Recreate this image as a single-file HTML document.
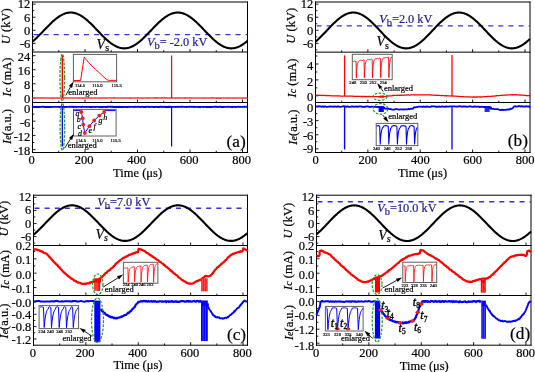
<!DOCTYPE html>
<html><head><meta charset="utf-8"><style>
html,body{margin:0;padding:0;background:#fff;}
svg{display:block;will-change:transform;}
text{font-family:"Liberation Serif",serif;stroke-width:0.2px;}
</style></head><body>
<svg width="535" height="372" viewBox="0 0 535 372" style="background:#fff">
<line x1="32" y1="2" x2="248" y2="2" stroke="#000" stroke-width="1" />
<line x1="32" y1="52" x2="248" y2="52" stroke="#000" stroke-width="1" />
<line x1="32" y1="102.5" x2="248" y2="102.5" stroke="#000" stroke-width="1" />
<line x1="32" y1="152.5" x2="248" y2="152.5" stroke="#000" stroke-width="1" />
<line x1="32.5" y1="1.5" x2="32.5" y2="153" stroke="#000" stroke-width="1" />
<line x1="247.5" y1="1.5" x2="247.5" y2="153" stroke="#000" stroke-width="1" />
<line x1="32.5" y1="52" x2="32.5" y2="49" stroke="#000" stroke-width="0.9" />
<line x1="58.75" y1="52" x2="58.75" y2="50.2" stroke="#000" stroke-width="0.9" />
<line x1="85" y1="52" x2="85" y2="49" stroke="#000" stroke-width="0.9" />
<line x1="111.25" y1="52" x2="111.25" y2="50.2" stroke="#000" stroke-width="0.9" />
<line x1="137.5" y1="52" x2="137.5" y2="49" stroke="#000" stroke-width="0.9" />
<line x1="163.75" y1="52" x2="163.75" y2="50.2" stroke="#000" stroke-width="0.9" />
<line x1="190" y1="52" x2="190" y2="49" stroke="#000" stroke-width="0.9" />
<line x1="216.25" y1="52" x2="216.25" y2="50.2" stroke="#000" stroke-width="0.9" />
<line x1="242.5" y1="52" x2="242.5" y2="49" stroke="#000" stroke-width="0.9" />
<line x1="32.5" y1="102.5" x2="32.5" y2="99.5" stroke="#000" stroke-width="0.9" />
<line x1="58.75" y1="102.5" x2="58.75" y2="100.7" stroke="#000" stroke-width="0.9" />
<line x1="85" y1="102.5" x2="85" y2="99.5" stroke="#000" stroke-width="0.9" />
<line x1="111.25" y1="102.5" x2="111.25" y2="100.7" stroke="#000" stroke-width="0.9" />
<line x1="137.5" y1="102.5" x2="137.5" y2="99.5" stroke="#000" stroke-width="0.9" />
<line x1="163.75" y1="102.5" x2="163.75" y2="100.7" stroke="#000" stroke-width="0.9" />
<line x1="190" y1="102.5" x2="190" y2="99.5" stroke="#000" stroke-width="0.9" />
<line x1="216.25" y1="102.5" x2="216.25" y2="100.7" stroke="#000" stroke-width="0.9" />
<line x1="242.5" y1="102.5" x2="242.5" y2="99.5" stroke="#000" stroke-width="0.9" />
<line x1="32.5" y1="152.5" x2="32.5" y2="149.5" stroke="#000" stroke-width="0.9" />
<line x1="58.75" y1="152.5" x2="58.75" y2="150.7" stroke="#000" stroke-width="0.9" />
<line x1="85" y1="152.5" x2="85" y2="149.5" stroke="#000" stroke-width="0.9" />
<line x1="111.25" y1="152.5" x2="111.25" y2="150.7" stroke="#000" stroke-width="0.9" />
<line x1="137.5" y1="152.5" x2="137.5" y2="149.5" stroke="#000" stroke-width="0.9" />
<line x1="163.75" y1="152.5" x2="163.75" y2="150.7" stroke="#000" stroke-width="0.9" />
<line x1="190" y1="152.5" x2="190" y2="149.5" stroke="#000" stroke-width="0.9" />
<line x1="216.25" y1="152.5" x2="216.25" y2="150.7" stroke="#000" stroke-width="0.9" />
<line x1="242.5" y1="152.5" x2="242.5" y2="149.5" stroke="#000" stroke-width="0.9" />
<text x="31.5" y="164.2" font-size="12.5" text-anchor="middle" fill="#000" stroke="#000"  font-family="Liberation Serif">0</text>
<text x="84" y="164.2" font-size="12.5" text-anchor="middle" fill="#000" stroke="#000"  font-family="Liberation Serif">200</text>
<text x="136.5" y="164.2" font-size="12.5" text-anchor="middle" fill="#000" stroke="#000"  font-family="Liberation Serif">400</text>
<text x="189" y="164.2" font-size="12.5" text-anchor="middle" fill="#000" stroke="#000"  font-family="Liberation Serif">600</text>
<text x="241.5" y="164.2" font-size="12.5" text-anchor="middle" fill="#000" stroke="#000"  font-family="Liberation Serif">800</text>
<text x="137.6" y="176.8" font-size="12.5" text-anchor="middle" fill="#000" stroke="#000"  font-family="Liberation Serif">Time (&#956;s)</text>
<line x1="32.5" y1="4.14" x2="35.5" y2="4.14" stroke="#000" stroke-width="0.9" />
<line x1="32.5" y1="10.68" x2="34.3" y2="10.68" stroke="#000" stroke-width="0.9" />
<line x1="32.5" y1="17.22" x2="35.5" y2="17.22" stroke="#000" stroke-width="0.9" />
<line x1="32.5" y1="23.76" x2="34.3" y2="23.76" stroke="#000" stroke-width="0.9" />
<line x1="32.5" y1="30.3" x2="35.5" y2="30.3" stroke="#000" stroke-width="0.9" />
<line x1="32.5" y1="36.84" x2="34.3" y2="36.84" stroke="#000" stroke-width="0.9" />
<line x1="32.5" y1="43.38" x2="35.5" y2="43.38" stroke="#000" stroke-width="0.9" />
<line x1="32.5" y1="49.92" x2="34.3" y2="49.92" stroke="#000" stroke-width="0.9" />
<text x="30.3" y="8.44" font-size="12.5" text-anchor="end" fill="#000" stroke="#000"  font-family="Liberation Serif">12</text>
<text x="30.3" y="22.22" font-size="12.5" text-anchor="end" fill="#000" stroke="#000"  font-family="Liberation Serif">6</text>
<text x="30.3" y="35.3" font-size="12.5" text-anchor="end" fill="#000" stroke="#000"  font-family="Liberation Serif">0</text>
<text x="30.3" y="48.38" font-size="12.5" text-anchor="end" fill="#000" stroke="#000"  font-family="Liberation Serif">-6</text>
<line x1="33.5" y1="34.66" x2="247.5" y2="34.66" stroke="#3535c8" stroke-width="1.35" stroke-dasharray="5.05 5.05"/>
<polyline points="32.5,41.55 33,41.13 33.5,40.71 34,40.27 34.5,39.83 35,39.38 35.5,38.92 36,38.45 36.5,37.98 37,37.5 37.5,37.01 38,36.52 38.5,36.03 39,35.53 39.5,35.02 40,34.51 40.5,34 41,33.48 41.5,32.96 42,32.44 42.5,31.92 43,31.39 43.5,30.87 44,30.34 44.5,29.82 45,29.3 45.5,28.77 46,28.25 46.5,27.73 47,27.21 47.5,26.7 48,26.19 48.5,25.68 49,25.17 49.5,24.67 50,24.18 50.5,23.69 51,23.21 51.5,22.73 52,22.26 52.5,21.8 53,21.34 53.5,20.89 54,20.45 54.5,20.02 55,19.6 55.5,19.19 56,18.78 56.5,18.39 57,18.01 57.5,17.64 58,17.27 58.5,16.93 59,16.59 59.5,16.26 60,15.95 60.5,15.65 61,15.36 61.5,15.08 62,14.82 62.5,14.57 63,14.33 63.5,14.11 64,13.91 64.5,13.71 65,13.53 65.5,13.37 66,13.22 66.5,13.08 67,12.96 67.5,12.86 68,12.77 68.5,12.7 69,12.64 69.5,12.59 70,12.56 70.5,12.55 71,12.55 71.5,12.57 72,12.6 72.5,12.65 73,12.72 73.5,12.8 74,12.89 74.5,13 75,13.12 75.5,13.26 76,13.42 76.5,13.59 77,13.77 77.5,13.97 78,14.18 78.5,14.4 79,14.64 79.5,14.9 80,15.16 80.5,15.44 81,15.73 81.5,16.04 82,16.36 82.5,16.69 83,17.03 83.5,17.38 84,17.75 84.5,18.12 85,18.51 85.5,18.9 86,19.31 86.5,19.73 87,20.15 87.5,20.58 88,21.03 88.5,21.48 89,21.94 89.5,22.4 90,22.87 90.5,23.35 91,23.84 91.5,24.33 92,24.82 92.5,25.32 93,25.83 93.5,26.34 94,26.85 94.5,27.37 95,27.89 95.5,28.41 96,28.93 96.5,29.45 97,29.98 97.5,30.5 98,31.03 98.5,31.55 99,32.08 99.5,32.6 100,33.12 100.5,33.64 101,34.15 101.5,34.66 102,35.17 102.5,35.68 103,36.18 103.5,36.67 104,37.16 104.5,37.64 105,38.12 105.5,38.59 106,39.06 106.5,39.51 107,39.96 107.5,40.4 108,40.83 108.5,41.26 109,41.67 109.5,42.08 110,42.47 110.5,42.85 111,43.23 111.5,43.59 112,43.94 112.5,44.28 113,44.61 113.5,44.92 114,45.22 114.5,45.51 115,45.79 115.5,46.06 116,46.31 116.5,46.54 117,46.77 117.5,46.97 118,47.17 118.5,47.35 119,47.52 119.5,47.67 120,47.8 120.5,47.92 121,48.03 121.5,48.12 122,48.2 122.5,48.26 123,48.3 123.5,48.33 124,48.35 124.5,48.35 125,48.33 125.5,48.3 126,48.25 126.5,48.19 127,48.11 127.5,48.02 128,47.91 128.5,47.79 129,47.65 129.5,47.5 130,47.33 130.5,47.15 131,46.95 131.5,46.74 132,46.52 132.5,46.28 133,46.03 133.5,45.76 134,45.49 134.5,45.2 135,44.89 135.5,44.57 136,44.25 136.5,43.91 137,43.55 137.5,43.19 138,42.82 138.5,42.43 139,42.04 139.5,41.63 140,41.22 140.5,40.79 141,40.36 141.5,39.92 142,39.47 142.5,39.01 143,38.55 143.5,38.07 144,37.6 144.5,37.11 145,36.62 145.5,36.13 146,35.63 146.5,35.12 147,34.61 147.5,34.1 148,33.58 148.5,33.07 149,32.55 149.5,32.02 150,31.5 150.5,30.97 151,30.45 151.5,29.93 152,29.4 152.5,28.88 153,28.35 153.5,27.83 154,27.32 154.5,26.8 155,26.29 155.5,25.78 156,25.27 156.5,24.77 157,24.28 157.5,23.79 158,23.3 158.5,22.83 159,22.35 159.5,21.89 160,21.43 160.5,20.98 161,20.54 161.5,20.11 162,19.68 162.5,19.27 163,18.86 163.5,18.47 164,18.08 164.5,17.71 165,17.35 165.5,16.99 166,16.65 166.5,16.33 167,16.01 167.5,15.7 168,15.41 168.5,15.14 169,14.87 169.5,14.62 170,14.38 170.5,14.16 171,13.95 171.5,13.75 172,13.57 172.5,13.4 173,13.25 173.5,13.11 174,12.99 174.5,12.88 175,12.79 175.5,12.71 176,12.65 176.5,12.6 177,12.57 177.5,12.55 178,12.55 178.5,12.57 179,12.6 179.5,12.64 180,12.7 180.5,12.78 181,12.87 181.5,12.98 182,13.1 182.5,13.23 183,13.38 183.5,13.55 184,13.73 184.5,13.93 185,14.13 185.5,14.36 186,14.59 186.5,14.84 187,15.11 187.5,15.39 188,15.68 188.5,15.98 189,16.29 189.5,16.62 190,16.96 190.5,17.31 191,17.67 191.5,18.05 192,18.43 192.5,18.82 193,19.23 193.5,19.64 194,20.07 194.5,20.5 195,20.94 195.5,21.39 196,21.84 196.5,22.31 197,22.78 197.5,23.26 198,23.74 198.5,24.23 199,24.72 199.5,25.22 200,25.73 200.5,26.24 201,26.75 201.5,27.26 202,27.78 202.5,28.3 203,28.82 203.5,29.35 204,29.87 204.5,30.4 205,30.92 205.5,31.45 206,31.97 206.5,32.49 207,33.01 207.5,33.53 208,34.05 208.5,34.56 209,35.07 209.5,35.58 210,36.08 210.5,36.57 211,37.06 211.5,37.55 212,38.03 212.5,38.5 213,38.96 213.5,39.42 214,39.87 214.5,40.32 215,40.75 215.5,41.17 216,41.59 216.5,42 217,42.39 217.5,42.78 218,43.15 218.5,43.52 219,43.87 219.5,44.21 220,44.54 220.5,44.86 221,45.17 221.5,45.46 222,45.74 222.5,46 223,46.26 223.5,46.5 224,46.72 224.5,46.93 225,47.13 225.5,47.31 226,47.48 226.5,47.64 227,47.78 227.5,47.9 228,48.01 228.5,48.1 229,48.18 229.5,48.25 230,48.3 230.5,48.33 231,48.35 231.5,48.35 232,48.34 232.5,48.31 233,48.26 233.5,48.2 234,48.13 234.5,48.04 235,47.94 235.5,47.82 236,47.68 236.5,47.53 237,47.37 237.5,47.19 238,46.99 238.5,46.79 239,46.57 239.5,46.33 240,46.08 240.5,45.82 241,45.54 241.5,45.25 242,44.95 242.5,44.64 243,44.31 243.5,43.97 244,43.63 244.5,43.26 245,42.89 245.5,42.51 246,42.12 246.5,41.71 247,41.3 247.5,40.88" fill="none" stroke="#000" stroke-width="2.1" stroke-linejoin="round" />
<text x="147" y="46.1" font-size="12.3" fill="#1b1b96" stroke="#1b1b96" font-family="Liberation Serif"><tspan font-style="italic">V</tspan><tspan font-size="10.5" dy="3">b</tspan><tspan dy="-3">= -2.0 kV</tspan></text>
<text x="96.6" y="48.6" font-size="14" fill="#000" stroke="#000" font-family="Liberation Serif"><tspan font-style="italic">V</tspan><tspan font-size="10" dy="2.6">s</tspan></text>
<text transform="translate(5.58,26.28) rotate(-90)" x="0" y="0" font-size="12.5" text-anchor="middle" dominant-baseline="central" stroke="#000" font-family="Liberation Serif"><tspan font-style="italic">U</tspan> (kV)</text>
<text transform="translate(6.82,77.04) rotate(-90)" x="0" y="0" font-size="12.5" text-anchor="middle" dominant-baseline="central" stroke="#000" font-family="Liberation Serif"><tspan font-style="italic">I</tspan><tspan font-size="10" font-style="italic">c</tspan> (mA)</text>
<text transform="translate(6.54,126.5) rotate(-90)" x="0" y="0" font-size="12.5" text-anchor="middle" dominant-baseline="central" stroke="#000" font-family="Liberation Serif"><tspan font-style="italic">I</tspan><tspan font-size="10" font-style="italic">e</tspan>(a.u.)</text>
<line x1="32.5" y1="97.8" x2="35.5" y2="97.8" stroke="#000" stroke-width="0.9" />
<line x1="32.5" y1="90.78" x2="34.3" y2="90.78" stroke="#000" stroke-width="0.9" />
<line x1="32.5" y1="83.76" x2="35.5" y2="83.76" stroke="#000" stroke-width="0.9" />
<line x1="32.5" y1="76.74" x2="34.3" y2="76.74" stroke="#000" stroke-width="0.9" />
<line x1="32.5" y1="69.72" x2="35.5" y2="69.72" stroke="#000" stroke-width="0.9" />
<line x1="32.5" y1="62.7" x2="34.3" y2="62.7" stroke="#000" stroke-width="0.9" />
<line x1="32.5" y1="55.68" x2="35.5" y2="55.68" stroke="#000" stroke-width="0.9" />
<text x="30.3" y="102.8" font-size="12.5" text-anchor="end" fill="#000" stroke="#000"  font-family="Liberation Serif">0</text>
<text x="30.3" y="88.76" font-size="12.5" text-anchor="end" fill="#000" stroke="#000"  font-family="Liberation Serif">8</text>
<text x="30.3" y="74.72" font-size="12.5" text-anchor="end" fill="#000" stroke="#000"  font-family="Liberation Serif">16</text>
<text x="30.3" y="60.68" font-size="12.5" text-anchor="end" fill="#000" stroke="#000"  font-family="Liberation Serif">24</text>
<line x1="32.5" y1="107" x2="35.5" y2="107" stroke="#000" stroke-width="0.9" />
<line x1="32.5" y1="114.1" x2="34.3" y2="114.1" stroke="#000" stroke-width="0.9" />
<line x1="32.5" y1="121.2" x2="35.5" y2="121.2" stroke="#000" stroke-width="0.9" />
<line x1="32.5" y1="128.3" x2="34.3" y2="128.3" stroke="#000" stroke-width="0.9" />
<line x1="32.5" y1="135.4" x2="35.5" y2="135.4" stroke="#000" stroke-width="0.9" />
<line x1="32.5" y1="142.5" x2="34.3" y2="142.5" stroke="#000" stroke-width="0.9" />
<line x1="32.5" y1="149.61" x2="35.5" y2="149.61" stroke="#000" stroke-width="0.9" />
<text x="30.3" y="112.6" font-size="12.5" text-anchor="end" fill="#000" stroke="#000"  font-family="Liberation Serif">0</text>
<text x="30.3" y="127.2" font-size="12.5" text-anchor="end" fill="#000" stroke="#000"  font-family="Liberation Serif">-6</text>
<text x="30.3" y="141.4" font-size="12.5" text-anchor="end" fill="#000" stroke="#000"  font-family="Liberation Serif">-12</text>
<text x="30.3" y="154.61" font-size="12.5" text-anchor="end" fill="#000" stroke="#000"  font-family="Liberation Serif">-18</text>
<polyline points="32.5,97.96 33.5,97.93 34.5,98.03 35.5,97.91 36.5,98.01 37.5,97.97 38.5,97.91 39.5,98 40.5,97.91 41.5,97.99 42.5,97.91 43.5,97.92 44.5,97.98 45.5,98.07 46.5,97.92 47.5,97.94 48.5,98.03 49.5,98.09 50.5,98.02 51.5,97.98 52.5,98.1 53.5,97.91 54.5,98.07 55.5,97.96 56.5,97.93 57.5,97.92 58.5,97.96 59.5,98.06 60.5,97.94 61.5,98.02 62.5,98.03 63.5,97.97 64.5,98.01 65.5,97.91 66.5,97.91 67.5,97.94 68.5,98.04 69.5,97.99 70.5,97.96 71.5,98.02 72.5,97.99 73.5,97.96 74.5,98.06 75.5,98.04 76.5,97.95 77.5,98.01 78.5,98.01 79.5,98.08 80.5,98.05 81.5,97.96 82.5,98.1 83.5,97.92 84.5,97.98 85.5,98.05 86.5,97.93 87.5,98 88.5,97.91 89.5,98.03 90.5,98.05 91.5,98.01 92.5,98.08 93.5,97.96 94.5,98.04 95.5,98.02 96.5,98.02 97.5,97.99 98.5,98.07 99.5,98.09 100.5,97.99 101.5,98.03 102.5,97.91 103.5,98.04 104.5,98.03 105.5,98.1 106.5,98.06 107.5,97.96 108.5,97.98 109.5,98.03 110.5,97.9 111.5,97.99 112.5,97.93 113.5,97.92 114.5,97.91 115.5,98.05 116.5,97.93 117.5,97.95 118.5,97.98 119.5,98.07 120.5,97.92 121.5,97.99 122.5,98.01 123.5,98.08 124.5,98.06 125.5,98.07 126.5,97.96 127.5,97.98 128.5,97.97 129.5,98.08 130.5,98.09 131.5,97.93 132.5,97.94 133.5,97.95 134.5,97.95 135.5,98 136.5,98.02 137.5,97.95 138.5,97.9 139.5,97.98 140.5,97.97 141.5,98.01 142.5,98.09 143.5,98.04 144.5,98 145.5,98.02 146.5,98.04 147.5,97.91 148.5,98.08 149.5,98.06 150.5,98.07 151.5,98.06 152.5,97.98 153.5,97.98 154.5,97.92 155.5,98.03 156.5,97.91 157.5,97.91 158.5,97.94 159.5,97.93 160.5,97.97 161.5,97.91 162.5,97.9 163.5,97.93 164.5,97.92 165.5,97.97 166.5,97.91 167.5,98.07 168.5,98.02 169.5,97.93 170.5,97.95 171.5,97.97 172.5,97.97 173.5,97.92 174.5,98.07 175.5,98.1 176.5,97.99 177.5,98 178.5,97.92 179.5,97.92 180.5,97.97 181.5,97.95 182.5,98.07 183.5,97.93 184.5,97.9 185.5,98.09 186.5,98.01 187.5,97.93 188.5,98.01 189.5,97.91 190.5,98.01 191.5,98.1 192.5,98.07 193.5,98.04 194.5,97.95 195.5,97.97 196.5,97.93 197.5,98.05 198.5,98.01 199.5,98.06 200.5,97.97 201.5,97.94 202.5,98.06 203.5,98.1 204.5,98.07 205.5,98.06 206.5,98.06 207.5,98.05 208.5,97.95 209.5,98 210.5,97.97 211.5,97.91 212.5,97.91 213.5,97.96 214.5,97.95 215.5,98.04 216.5,98.09 217.5,97.99 218.5,98.09 219.5,98.1 220.5,98.09 221.5,97.97 222.5,97.94 223.5,97.95 224.5,97.94 225.5,97.94 226.5,98.02 227.5,98.08 228.5,98.07 229.5,98 230.5,98.03 231.5,98.06 232.5,97.92 233.5,98.03 234.5,98.08 235.5,98.06 236.5,98.05 237.5,98 238.5,97.94 239.5,98.06 240.5,97.97 241.5,98.06 242.5,98.09 243.5,97.98 244.5,97.98 245.5,98.09 246.5,98.04 247.5,97.93" fill="none" stroke="#ff4040" stroke-width="1.6" stroke-linejoin="round" />
<line x1="62.3" y1="98" x2="62.3" y2="55.4" stroke="#ff0000" stroke-width="1.4" />
<line x1="171.6" y1="98" x2="171.6" y2="55.4" stroke="#ff0000" stroke-width="1.2" />
<ellipse cx="62.3" cy="77.6" rx="2.3" ry="23.4" fill="none" stroke="#1e9a1e" stroke-width="1.2" stroke-dasharray="2.6 1.4"/>
<rect x="73.4" y="54.4" width="43.2" height="27.4" fill="#fff" stroke="#5e5e5e" stroke-width="1"/>
<text x="80" y="87.2" font-size="4.6" text-anchor="middle" fill="#111" stroke="#111"  font-family="Liberation Serif">114.5</text>
<text x="97.4" y="87.2" font-size="4.6" text-anchor="middle" fill="#111" stroke="#111"  font-family="Liberation Serif">115.0</text>
<text x="116.7" y="87.2" font-size="4.6" text-anchor="middle" fill="#111" stroke="#111"  font-family="Liberation Serif">115.5</text>
<polyline points="73.9,80.5 80.6,80.5 84.2,57.2 86,59.4 88.5,62.4 92,66 95.5,69.4 99.2,72.6 102,75.4 104.8,78 106.5,79.4 108.2,80.3 116.1,80.4" fill="none" stroke="#ff0000" stroke-width="1.0" stroke-linejoin="round" />
<text x="68.3" y="94.6" font-size="8.5" text-anchor="start" fill="#000" stroke="#000"  font-family="Liberation Serif">enlarged</text>
<line x1="65.8" y1="95.4" x2="70.48" y2="87.01" stroke="#000" stroke-width="0.9" />
<polygon points="73.5,81.6 72.14,87.94 68.82,86.09" fill="#000"/>
<polyline points="32.5,106.81 33.5,106.82 34.5,107 35.5,106.97 36.5,106.82 37.5,106.98 38.5,107.02 39.5,106.94 40.5,106.86 41.5,106.91 42.5,106.81 43.5,106.78 44.5,107.01 45.5,106.94 46.5,106.91 47.5,107 48.5,106.88 49.5,106.99 50.5,106.98 51.5,106.83 52.5,106.84 53.5,106.85 54.5,106.84 55.5,106.92 56.5,106.84 57.5,106.88 58.5,106.81 59.5,107 60.5,106.86 61.5,106.89 62.5,106.92 63.5,107 64.5,106.88 65.5,107 66.5,106.9 67.5,106.91 68.5,106.91 69.5,106.78 70.5,106.89 71.5,106.82 72.5,106.78 73.5,106.97 74.5,106.82 75.5,106.89 76.5,106.95 77.5,106.91 78.5,106.86 79.5,106.9 80.5,106.91 81.5,106.97 82.5,106.81 83.5,106.91 84.5,106.84 85.5,106.85 86.5,106.97 87.5,106.9 88.5,106.91 89.5,106.96 90.5,107 91.5,106.89 92.5,106.93 93.5,106.9 94.5,106.9 95.5,106.95 96.5,106.89 97.5,106.91 98.5,106.89 99.5,107.01 100.5,106.95 101.5,106.99 102.5,107.01 103.5,106.84 104.5,106.91 105.5,107.01 106.5,106.98 107.5,106.81 108.5,106.81 109.5,106.89 110.5,106.8 111.5,106.84 112.5,106.8 113.5,106.94 114.5,106.97 115.5,107 116.5,106.82 117.5,106.95 118.5,106.94 119.5,106.81 120.5,106.99 121.5,107.01 122.5,106.83 123.5,107.01 124.5,106.88 125.5,106.9 126.5,107.02 127.5,106.98 128.5,106.82 129.5,106.88 130.5,106.9 131.5,106.86 132.5,106.83 133.5,106.86 134.5,106.95 135.5,106.78 136.5,106.91 137.5,106.89 138.5,106.78 139.5,106.86 140.5,106.93 141.5,106.9 142.5,106.8 143.5,107.02 144.5,106.97 145.5,107.01 146.5,106.81 147.5,106.84 148.5,106.79 149.5,106.97 150.5,106.84 151.5,106.81 152.5,106.88 153.5,107 154.5,106.98 155.5,106.84 156.5,106.82 157.5,107 158.5,106.92 159.5,106.95 160.5,106.8 161.5,106.79 162.5,106.95 163.5,106.88 164.5,106.8 165.5,107.01 166.5,106.93 167.5,106.97 168.5,106.8 169.5,106.99 170.5,106.8 171.5,106.99 172.5,106.89 173.5,106.86 174.5,106.91 175.5,107 176.5,106.84 177.5,106.81 178.5,106.91 179.5,106.84 180.5,106.81 181.5,106.82 182.5,106.79 183.5,106.83 184.5,106.85 185.5,106.85 186.5,106.96 187.5,106.85 188.5,106.9 189.5,106.82 190.5,106.86 191.5,106.78 192.5,106.84 193.5,106.78 194.5,106.96 195.5,106.91 196.5,106.83 197.5,106.89 198.5,107 199.5,106.81 200.5,106.98 201.5,106.88 202.5,106.9 203.5,106.98 204.5,106.87 205.5,106.9 206.5,106.95 207.5,107.02 208.5,106.86 209.5,106.98 210.5,106.95 211.5,106.93 212.5,106.88 213.5,106.86 214.5,106.79 215.5,106.81 216.5,106.8 217.5,106.96 218.5,106.84 219.5,106.82 220.5,106.8 221.5,106.98 222.5,106.99 223.5,106.94 224.5,106.85 225.5,106.84 226.5,106.85 227.5,106.89 228.5,106.82 229.5,106.89 230.5,106.84 231.5,107.01 232.5,107.01 233.5,106.91 234.5,106.84 235.5,107.01 236.5,106.85 237.5,106.87 238.5,106.78 239.5,106.87 240.5,106.89 241.5,106.9 242.5,106.83 243.5,106.9 244.5,106.78 245.5,106.84 246.5,106.8 247.5,106.88" fill="none" stroke="#0000ff" stroke-width="1.9" stroke-linejoin="round" />
<line x1="62.3" y1="106.7" x2="62.3" y2="146.6" stroke="#0000ff" stroke-width="1.3" />
<line x1="171.6" y1="106.7" x2="171.6" y2="146.6" stroke="#0000ff" stroke-width="1.2" />
<ellipse cx="62.4" cy="126.8" rx="2.3" ry="23.5" fill="none" stroke="#1e9a1e" stroke-width="1.2" stroke-dasharray="2.6 1.4"/>
<rect x="73.5" y="109.4" width="42.6" height="26.6" fill="#fff" stroke="#5e5e5e" stroke-width="1"/>
<text x="80.9" y="141.6" font-size="4.6" text-anchor="middle" fill="#111" stroke="#111"  font-family="Liberation Serif">114.5</text>
<text x="97.4" y="141.6" font-size="4.6" text-anchor="middle" fill="#111" stroke="#111"  font-family="Liberation Serif">115.0</text>
<text x="115.7" y="141.6" font-size="4.6" text-anchor="middle" fill="#111" stroke="#111"  font-family="Liberation Serif">115.5</text>
<polyline points="74,110.6 80.3,110.6 81.3,112 82.6,118.2 83.2,124.6 84.8,133 89.4,126.2 94.2,120.5 99.3,115.6 104.2,112 105.5,110.6 115.6,110.6" fill="none" stroke="#0000ff" stroke-width="1.0" stroke-linejoin="round" />
<circle cx="81.3" cy="112" r="1.9" fill="#ff1a1a"/>
<circle cx="82.6" cy="118.2" r="1.9" fill="#ff1a1a"/>
<circle cx="83.2" cy="124.6" r="1.9" fill="#ff1a1a"/>
<circle cx="84.8" cy="133" r="1.9" fill="#ff1a1a"/>
<circle cx="89.4" cy="126.2" r="1.9" fill="#ff1a1a"/>
<circle cx="94.2" cy="120.5" r="1.9" fill="#ff1a1a"/>
<circle cx="99.3" cy="115.6" r="1.9" fill="#ff1a1a"/>
<circle cx="104.2" cy="112" r="1.9" fill="#ff1a1a"/>
<text x="77.5" y="116.4" font-size="8" text-anchor="middle" fill="#000" stroke="#000"  font-family="Liberation Serif" font-style="italic">a</text>
<text x="78.7" y="122.4" font-size="8" text-anchor="middle" fill="#000" stroke="#000"  font-family="Liberation Serif" font-style="italic">b</text>
<text x="79.3" y="129.4" font-size="8" text-anchor="middle" fill="#000" stroke="#000"  font-family="Liberation Serif" font-style="italic">c</text>
<text x="80" y="135.8" font-size="8" text-anchor="middle" fill="#000" stroke="#000"  font-family="Liberation Serif" font-style="italic">d</text>
<text x="90.3" y="132.6" font-size="8" text-anchor="middle" fill="#000" stroke="#000"  font-family="Liberation Serif" font-style="italic">e</text>
<text x="94.6" y="129.4" font-size="8" text-anchor="middle" fill="#000" stroke="#000"  font-family="Liberation Serif" font-style="italic">f</text>
<text x="100.6" y="122.6" font-size="8" text-anchor="middle" fill="#000" stroke="#000"  font-family="Liberation Serif" font-style="italic">g</text>
<text x="105.3" y="120.2" font-size="8" text-anchor="middle" fill="#000" stroke="#000"  font-family="Liberation Serif" font-style="italic">h</text>
<text x="67.7" y="147.6" font-size="8.5" text-anchor="start" fill="#000" stroke="#000"  font-family="Liberation Serif">enlarged</text>
<line x1="64.5" y1="148.3" x2="70.53" y2="139" stroke="#000" stroke-width="0.9" />
<polygon points="73.9,133.8 72.12,140.04 68.93,137.97" fill="#000"/>
<text x="226.5" y="146.5" font-size="17.3" text-anchor="start" fill="#000" stroke="#000"  font-family="Liberation Serif">(a)</text>
<line x1="315" y1="2" x2="530.5" y2="2" stroke="#000" stroke-width="1" />
<line x1="315" y1="52.15" x2="530.5" y2="52.15" stroke="#000" stroke-width="1" />
<line x1="315" y1="102.5" x2="530.5" y2="102.5" stroke="#000" stroke-width="1" />
<line x1="315" y1="152.5" x2="530.5" y2="152.5" stroke="#000" stroke-width="1" />
<line x1="315.5" y1="1.5" x2="315.5" y2="153" stroke="#000" stroke-width="1" />
<line x1="530" y1="1.5" x2="530" y2="153" stroke="#000" stroke-width="1" />
<line x1="315.5" y1="52.15" x2="315.5" y2="49.15" stroke="#000" stroke-width="0.9" />
<line x1="341.69" y1="52.15" x2="341.69" y2="50.35" stroke="#000" stroke-width="0.9" />
<line x1="367.88" y1="52.15" x2="367.88" y2="49.15" stroke="#000" stroke-width="0.9" />
<line x1="394.06" y1="52.15" x2="394.06" y2="50.35" stroke="#000" stroke-width="0.9" />
<line x1="420.25" y1="52.15" x2="420.25" y2="49.15" stroke="#000" stroke-width="0.9" />
<line x1="446.44" y1="52.15" x2="446.44" y2="50.35" stroke="#000" stroke-width="0.9" />
<line x1="472.62" y1="52.15" x2="472.62" y2="49.15" stroke="#000" stroke-width="0.9" />
<line x1="498.81" y1="52.15" x2="498.81" y2="50.35" stroke="#000" stroke-width="0.9" />
<line x1="525" y1="52.15" x2="525" y2="49.15" stroke="#000" stroke-width="0.9" />
<line x1="315.5" y1="102.5" x2="315.5" y2="99.5" stroke="#000" stroke-width="0.9" />
<line x1="341.69" y1="102.5" x2="341.69" y2="100.7" stroke="#000" stroke-width="0.9" />
<line x1="367.88" y1="102.5" x2="367.88" y2="99.5" stroke="#000" stroke-width="0.9" />
<line x1="394.06" y1="102.5" x2="394.06" y2="100.7" stroke="#000" stroke-width="0.9" />
<line x1="420.25" y1="102.5" x2="420.25" y2="99.5" stroke="#000" stroke-width="0.9" />
<line x1="446.44" y1="102.5" x2="446.44" y2="100.7" stroke="#000" stroke-width="0.9" />
<line x1="472.62" y1="102.5" x2="472.62" y2="99.5" stroke="#000" stroke-width="0.9" />
<line x1="498.81" y1="102.5" x2="498.81" y2="100.7" stroke="#000" stroke-width="0.9" />
<line x1="525" y1="102.5" x2="525" y2="99.5" stroke="#000" stroke-width="0.9" />
<line x1="315.5" y1="152.5" x2="315.5" y2="149.5" stroke="#000" stroke-width="0.9" />
<line x1="341.69" y1="152.5" x2="341.69" y2="150.7" stroke="#000" stroke-width="0.9" />
<line x1="367.88" y1="152.5" x2="367.88" y2="149.5" stroke="#000" stroke-width="0.9" />
<line x1="394.06" y1="152.5" x2="394.06" y2="150.7" stroke="#000" stroke-width="0.9" />
<line x1="420.25" y1="152.5" x2="420.25" y2="149.5" stroke="#000" stroke-width="0.9" />
<line x1="446.44" y1="152.5" x2="446.44" y2="150.7" stroke="#000" stroke-width="0.9" />
<line x1="472.62" y1="152.5" x2="472.62" y2="149.5" stroke="#000" stroke-width="0.9" />
<line x1="498.81" y1="152.5" x2="498.81" y2="150.7" stroke="#000" stroke-width="0.9" />
<line x1="525" y1="152.5" x2="525" y2="149.5" stroke="#000" stroke-width="0.9" />
<text x="315.5" y="164.2" font-size="12.5" text-anchor="middle" fill="#000" stroke="#000"  font-family="Liberation Serif">0</text>
<text x="367.88" y="164.2" font-size="12.5" text-anchor="middle" fill="#000" stroke="#000"  font-family="Liberation Serif">200</text>
<text x="420.25" y="164.2" font-size="12.5" text-anchor="middle" fill="#000" stroke="#000"  font-family="Liberation Serif">400</text>
<text x="472.62" y="164.2" font-size="12.5" text-anchor="middle" fill="#000" stroke="#000"  font-family="Liberation Serif">600</text>
<text x="525" y="164.2" font-size="12.5" text-anchor="middle" fill="#000" stroke="#000"  font-family="Liberation Serif">800</text>
<text x="422.6" y="176.8" font-size="12.5" text-anchor="middle" fill="#000" stroke="#000"  font-family="Liberation Serif">Time (&#956;s)</text>
<line x1="315.5" y1="4.14" x2="318.5" y2="4.14" stroke="#000" stroke-width="0.9" />
<line x1="315.5" y1="10.68" x2="317.3" y2="10.68" stroke="#000" stroke-width="0.9" />
<line x1="315.5" y1="17.22" x2="318.5" y2="17.22" stroke="#000" stroke-width="0.9" />
<line x1="315.5" y1="23.76" x2="317.3" y2="23.76" stroke="#000" stroke-width="0.9" />
<line x1="315.5" y1="30.3" x2="318.5" y2="30.3" stroke="#000" stroke-width="0.9" />
<line x1="315.5" y1="36.84" x2="317.3" y2="36.84" stroke="#000" stroke-width="0.9" />
<line x1="315.5" y1="43.38" x2="318.5" y2="43.38" stroke="#000" stroke-width="0.9" />
<line x1="315.5" y1="49.92" x2="317.3" y2="49.92" stroke="#000" stroke-width="0.9" />
<text x="313.3" y="8.44" font-size="12.5" text-anchor="end" fill="#000" stroke="#000"  font-family="Liberation Serif">12</text>
<text x="313.3" y="22.22" font-size="12.5" text-anchor="end" fill="#000" stroke="#000"  font-family="Liberation Serif">6</text>
<text x="313.3" y="35.3" font-size="12.5" text-anchor="end" fill="#000" stroke="#000"  font-family="Liberation Serif">0</text>
<text x="313.3" y="48.38" font-size="12.5" text-anchor="end" fill="#000" stroke="#000"  font-family="Liberation Serif">-6</text>
<line x1="316.5" y1="25.94" x2="530" y2="25.94" stroke="#3535c8" stroke-width="1.35" stroke-dasharray="5.05 5.05"/>
<polyline points="315.5,41.67 316,41.25 316.5,40.82 317,40.39 317.5,39.94 318,39.48 318.5,39.02 319,38.55 319.5,38.07 320,37.59 320.5,37.1 321,36.6 321.5,36.1 322,35.59 322.5,35.08 323,34.56 323.5,34.04 324,33.52 324.5,33 325,32.47 325.5,31.94 326,31.41 326.5,30.88 327,30.34 327.5,29.81 328,29.28 328.5,28.75 329,28.22 329.5,27.69 330,27.17 330.5,26.65 331,26.13 331.5,25.62 332,25.11 332.5,24.6 333,24.1 333.5,23.61 334,23.12 334.5,22.64 335,22.16 335.5,21.69 336,21.23 336.5,20.78 337,20.34 337.5,19.9 338,19.48 338.5,19.06 339,18.66 339.5,18.26 340,17.88 340.5,17.5 341,17.14 341.5,16.79 342,16.46 342.5,16.13 343,15.82 343.5,15.52 344,15.23 344.5,14.96 345,14.7 345.5,14.45 346,14.22 346.5,14 347,13.8 347.5,13.61 348,13.44 348.5,13.28 349,13.14 349.5,13.01 350,12.9 350.5,12.8 351,12.72 351.5,12.66 352,12.61 352.5,12.57 353,12.55 353.5,12.55 354,12.56 354.5,12.59 355,12.64 355.5,12.7 356,12.78 356.5,12.87 357,12.98 357.5,13.1 358,13.24 358.5,13.39 359,13.56 359.5,13.74 360,13.94 360.5,14.15 361,14.38 361.5,14.62 362,14.88 362.5,15.15 363,15.43 363.5,15.73 364,16.03 364.5,16.36 365,16.69 365.5,17.04 366,17.39 366.5,17.76 367,18.15 367.5,18.54 368,18.94 368.5,19.35 369,19.77 369.5,20.21 370,20.65 370.5,21.1 371,21.55 371.5,22.02 372,22.49 372.5,22.97 373,23.46 373.5,23.95 374,24.45 374.5,24.95 375,25.46 375.5,25.98 376,26.49 376.5,27.01 377,27.54 377.5,28.06 378,28.59 378.5,29.12 379,29.65 379.5,30.18 380,30.72 380.5,31.25 381,31.78 381.5,32.31 382,32.84 382.5,33.36 383,33.89 383.5,34.41 384,34.92 384.5,35.44 385,35.95 385.5,36.45 386,36.95 386.5,37.44 387,37.93 387.5,38.41 388,38.88 388.5,39.35 389,39.8 389.5,40.25 390,40.69 390.5,41.13 391,41.55 391.5,41.96 392,42.36 392.5,42.75 393,43.14 393.5,43.51 394,43.86 394.5,44.21 395,44.54 395.5,44.87 396,45.17 396.5,45.47 397,45.75 397.5,46.02 398,46.28 398.5,46.52 399,46.75 399.5,46.96 400,47.16 400.5,47.34 401,47.51 401.5,47.66 402,47.8 402.5,47.92 403,48.03 403.5,48.12 404,48.2 404.5,48.26 405,48.31 405.5,48.34 406,48.35 406.5,48.35 407,48.33 407.5,48.29 408,48.24 408.5,48.18 409,48.1 409.5,48 410,47.89 410.5,47.76 411,47.62 411.5,47.46 412,47.29 412.5,47.1 413,46.9 413.5,46.68 414,46.45 414.5,46.2 415,45.94 415.5,45.67 416,45.38 416.5,45.08 417,44.77 417.5,44.44 418,44.11 418.5,43.76 419,43.4 419.5,43.02 420,42.64 420.5,42.24 421,41.84 421.5,41.42 422,41 422.5,40.56 423,40.12 423.5,39.67 424,39.21 424.5,38.74 425,38.26 425.5,37.78 426,37.29 426.5,36.8 427,36.3 427.5,35.79 428,35.28 428.5,34.77 429,34.25 429.5,33.73 430,33.21 430.5,32.68 431,32.15 431.5,31.62 432,31.09 432.5,30.56 433,30.02 433.5,29.49 434,28.96 434.5,28.43 435,27.9 435.5,27.38 436,26.86 436.5,26.34 437,25.82 437.5,25.31 438,24.8 438.5,24.3 439,23.8 439.5,23.31 440,22.83 440.5,22.35 441,21.88 441.5,21.42 442,20.96 442.5,20.51 443,20.08 443.5,19.65 444,19.23 444.5,18.82 445,18.42 445.5,18.03 446,17.65 446.5,17.29 447,16.93 447.5,16.59 448,16.26 448.5,15.94 449,15.64 449.5,15.34 450,15.06 450.5,14.8 451,14.55 451.5,14.31 452,14.09 452.5,13.88 453,13.69 453.5,13.51 454,13.34 454.5,13.19 455,13.06 455.5,12.94 456,12.84 456.5,12.75 457,12.68 457.5,12.62 458,12.58 458.5,12.56 459,12.55 459.5,12.56 460,12.58 460.5,12.62 461,12.67 461.5,12.74 462,12.83 462.5,12.93 463,13.05 463.5,13.18 464,13.33 464.5,13.49 465,13.67 465.5,13.86 466,14.07 466.5,14.29 467,14.52 467.5,14.77 468,15.04 468.5,15.31 469,15.61 469.5,15.91 470,16.23 470.5,16.56 471,16.9 471.5,17.25 472,17.62 472.5,17.99 473,18.38 473.5,18.78 474,19.19 474.5,19.6 475,20.03 475.5,20.47 476,20.92 476.5,21.37 477,21.83 477.5,22.3 478,22.78 478.5,23.26 479,23.75 479.5,24.25 480,24.75 480.5,25.26 481,25.77 481.5,26.29 482,26.8 482.5,27.33 483,27.85 483.5,28.38 484,28.91 484.5,29.44 485,29.97 485.5,30.5 486,31.04 486.5,31.57 487,32.1 487.5,32.63 488,33.15 488.5,33.68 489,34.2 489.5,34.72 490,35.23 490.5,35.74 491,36.25 491.5,36.75 492,37.24 492.5,37.73 493,38.22 493.5,38.69 494,39.16 494.5,39.62 495,40.07 495.5,40.52 496,40.95 496.5,41.38 497,41.8 497.5,42.2 498,42.6 498.5,42.98 499,43.36 499.5,43.72 500,44.07 500.5,44.41 501,44.74 501.5,45.05 502,45.35 502.5,45.64 503,45.92 503.5,46.18 504,46.42 504.5,46.66 505,46.88 505.5,47.08 506,47.27 506.5,47.44 507,47.6 507.5,47.75 508,47.88 508.5,47.99 509,48.09 509.5,48.17 510,48.24 510.5,48.29 511,48.33 511.5,48.35 512,48.35 512.5,48.34 513,48.31 513.5,48.27 514,48.21 514.5,48.13 515,48.04 515.5,47.94 516,47.81 516.5,47.68 517,47.53 517.5,47.36 518,47.18 518.5,46.98 519,46.77 519.5,46.54 520,46.3 520.5,46.05 521,45.78 521.5,45.5 522,45.2 522.5,44.9 523,44.58 523.5,44.24 524,43.9 524.5,43.54 525,43.17 525.5,42.79 526,42.4 526.5,42 527,41.59 527.5,41.17 528,40.74 528.5,40.3 529,39.85 529.5,39.39 530,38.93" fill="none" stroke="#000" stroke-width="2.1" stroke-linejoin="round" />
<text x="379.2" y="22.9" font-size="12.3" fill="#1b1b96" stroke="#1b1b96" font-family="Liberation Serif"><tspan font-style="italic">V</tspan><tspan font-size="10.5" dy="3">b</tspan><tspan dy="-3">=2.0 kV</tspan></text>
<text x="376.5" y="46.1" font-size="14" fill="#000" stroke="#000" font-family="Liberation Serif"><tspan font-style="italic">V</tspan><tspan font-size="10" dy="2.6">s</tspan></text>
<text transform="translate(290.96,25.78) rotate(-90)" x="0" y="0" font-size="12.5" text-anchor="middle" dominant-baseline="central" stroke="#000" font-family="Liberation Serif"><tspan font-style="italic">U</tspan> (kV)</text>
<text transform="translate(292.44,78.06) rotate(-90)" x="0" y="0" font-size="12.5" text-anchor="middle" dominant-baseline="central" stroke="#000" font-family="Liberation Serif"><tspan font-style="italic">I</tspan><tspan font-size="10" font-style="italic">c</tspan> (mA)</text>
<text transform="translate(292.54,127.16) rotate(-90)" x="0" y="0" font-size="12.5" text-anchor="middle" dominant-baseline="central" stroke="#000" font-family="Liberation Serif"><tspan font-style="italic">I</tspan><tspan font-size="10" font-style="italic">e</tspan>(a.u.)</text>
<line x1="315.5" y1="95.8" x2="318.5" y2="95.8" stroke="#000" stroke-width="0.9" />
<line x1="315.5" y1="87.85" x2="317.3" y2="87.85" stroke="#000" stroke-width="0.9" />
<line x1="315.5" y1="79.9" x2="318.5" y2="79.9" stroke="#000" stroke-width="0.9" />
<line x1="315.5" y1="71.95" x2="317.3" y2="71.95" stroke="#000" stroke-width="0.9" />
<line x1="315.5" y1="64" x2="318.5" y2="64" stroke="#000" stroke-width="0.9" />
<line x1="315.5" y1="56.05" x2="317.3" y2="56.05" stroke="#000" stroke-width="0.9" />
<text x="313.3" y="101.4" font-size="12.5" text-anchor="end" fill="#000" stroke="#000"  font-family="Liberation Serif">0</text>
<text x="313.3" y="85.5" font-size="12.5" text-anchor="end" fill="#000" stroke="#000"  font-family="Liberation Serif">2</text>
<text x="313.3" y="69.6" font-size="12.5" text-anchor="end" fill="#000" stroke="#000"  font-family="Liberation Serif">4</text>
<line x1="315.5" y1="106.6" x2="318.5" y2="106.6" stroke="#000" stroke-width="0.9" />
<line x1="315.5" y1="113.63" x2="317.3" y2="113.63" stroke="#000" stroke-width="0.9" />
<line x1="315.5" y1="120.67" x2="318.5" y2="120.67" stroke="#000" stroke-width="0.9" />
<line x1="315.5" y1="127.7" x2="317.3" y2="127.7" stroke="#000" stroke-width="0.9" />
<line x1="315.5" y1="134.74" x2="318.5" y2="134.74" stroke="#000" stroke-width="0.9" />
<line x1="315.5" y1="141.78" x2="317.3" y2="141.78" stroke="#000" stroke-width="0.9" />
<line x1="315.5" y1="148.81" x2="318.5" y2="148.81" stroke="#000" stroke-width="0.9" />
<text x="313.3" y="112.3" font-size="12.5" text-anchor="end" fill="#000" stroke="#000"  font-family="Liberation Serif">0</text>
<text x="313.3" y="126.37" font-size="12.5" text-anchor="end" fill="#000" stroke="#000"  font-family="Liberation Serif">-3</text>
<text x="313.3" y="140.44" font-size="12.5" text-anchor="end" fill="#000" stroke="#000"  font-family="Liberation Serif">-6</text>
<text x="313.3" y="153.11" font-size="12.5" text-anchor="end" fill="#000" stroke="#000"  font-family="Liberation Serif">-9</text>
<polyline points="315.5,95.11 316.04,95.12 316.65,95.2 317.32,95.2 318.05,95.3 318.84,95.31 319.68,95.38 320.57,95.4 321.5,95.44 322.48,95.5 323.49,95.44 324.54,95.46 325.62,95.63 326.72,95.49 327.84,95.65 328.99,95.67 330.14,95.58 331.31,95.78 332.49,95.83 333.67,95.81 334.84,95.87 336.02,95.92 337.18,95.82 338.34,95.93 339.48,95.96 340.6,96.06 341.69,96.08 342.76,96.11 343.8,96.09 344.8,96.18 345.87,96.16 346.95,96.19 348.05,96.12 349.16,96.11 350.29,96.15 351.42,96.22 352.55,96.19 353.69,96.36 354.83,96.33 355.97,96.36 357.1,96.38 358.22,96.41 359.34,96.39 360.44,96.32 361.53,96.49 362.61,96.5 363.66,96.47 364.69,96.49 365.7,96.53 366.68,96.43 367.63,96.58 368.55,96.49 369.44,96.47 370.29,96.52 371.1,96.63 371.87,96.53 372.6,96.65 374.31,96.72 375.7,96.65 376.82,96.65 377.75,96.69 378.54,96.75 379.26,96.77 379.99,96.73 380.77,96.72 381.69,96.57 382.8,96.53 383.67,96.5 384.52,96.52 385.37,96.35 386.22,96.31 387.08,96.1 387.97,96 388.9,95.93 389.87,95.9 390.9,95.79 391.99,95.68 393.15,95.5 394.4,95.45 395.75,95.36 397.2,95.29 398,95.19 398.84,95.32 399.71,95.15 400.61,95.27 401.54,95.24 402.5,95.03 403.49,95.09 404.49,95.13 405.52,95.14 406.57,95.01 407.63,94.95 408.71,94.92 409.8,95.05 410.89,94.88 412,94.94 413.11,94.84 414.22,94.9 415.33,94.98 416.44,94.81 417.55,94.94 418.65,94.87 419.74,94.95 420.83,94.91 421.89,94.82 422.95,94.96 423.98,94.89 425,94.8 426.05,94.82 427.1,94.93 428.15,94.95 429.21,94.95 430.26,94.95 431.32,95.02 432.38,95.05 433.44,95.2 434.49,95.07 435.55,95.27 436.6,95.33 437.64,95.24 438.69,95.45 439.73,95.46 440.76,95.54 441.78,95.47 442.8,95.54 443.81,95.6 444.81,95.77 445.8,95.74 446.78,95.74 447.75,95.81 448.71,95.82 449.65,95.82 450.58,95.88 451.5,96.07 452.68,96.01 453.84,96.2 454.99,96.12 456.13,96.18 457.25,96.29 458.36,96.29 459.46,96.39 460.54,96.57 461.6,96.61 462.66,96.66 463.69,96.68 464.71,96.79 465.72,96.85 466.71,96.82 467.68,96.89 468.64,96.8 469.58,96.97 470.5,96.95 471.41,97.03 472.3,97.03 473.5,96.98 474.6,96.94 475.63,97.12 476.58,96.95 477.5,97.01 478.38,96.97 479.26,96.93 480.15,96.99 481.07,97 482.03,96.81 483.06,96.83 484.16,96.7 485.37,96.69 486.7,96.58 487.53,96.48 488.41,96.42 489.32,96.36 490.27,96.43 491.25,96.27 492.26,96.13 493.29,96.17 494.34,96.1 495.42,95.89 496.5,95.74 497.6,95.65 498.7,95.53 499.81,95.48 500.92,95.34 502.02,95.28 503.12,95.2 504.21,95.18 505.29,95.16 506.35,95.07 507.39,94.94 508.41,94.88 509.41,94.86 510.37,94.8 511.3,94.77 512.46,94.7 513.64,94.75 514.84,94.91 516.03,94.77 517.23,94.89 518.42,94.97 519.59,95.08 520.75,95.02 521.88,95.1 522.98,95.18 524.05,95.29 525.07,95.37 526.04,95.55 526.96,95.61 527.81,95.68 528.6,95.57 529.31,95.63 529.95,95.81 530.5,95.88" fill="none" stroke="#ff0000" stroke-width="1.3" stroke-linejoin="round" />
<line x1="380" y1="96.6" x2="384" y2="96.6" stroke="#ff0000" stroke-width="2.2" />
<line x1="344.6" y1="96.1" x2="344.6" y2="55.4" stroke="#ff0000" stroke-width="1.3" />
<line x1="452" y1="96" x2="452" y2="55" stroke="#ff0000" stroke-width="1.3" />
<ellipse cx="380" cy="96.7" rx="7" ry="3.6" fill="none" stroke="#1e9a1e" stroke-width="1.2" stroke-dasharray="2.6 1.4"/>
<rect x="352.3" y="54.3" width="39.9" height="25.4" fill="#fff" stroke="#5e5e5e" stroke-width="1"/>
<text x="352.8" y="83.8" font-size="4.6" text-anchor="middle" fill="#111" stroke="#111"  font-family="Liberation Serif">248</text>
<text x="363.3" y="83.8" font-size="4.6" text-anchor="middle" fill="#111" stroke="#111"  font-family="Liberation Serif">250</text>
<text x="373" y="83.8" font-size="4.6" text-anchor="middle" fill="#111" stroke="#111"  font-family="Liberation Serif">252</text>
<text x="383.3" y="83.8" font-size="4.6" text-anchor="middle" fill="#111" stroke="#111"  font-family="Liberation Serif">254</text>
<polyline points="352.8,61.33 353.34,61.33 353.88,60.98 354.42,61.11 354.97,61.32 355.51,61.21 356.05,61.17 356.4,78.04 356.67,71.69 356.95,67.74 357.22,65.25 357.5,63.79 357.77,62.8 358.05,62.22 358.32,61.65 358.6,61.3 359.14,60.78 359.69,60.57 360.23,60.55 360.78,60.24 361.32,60.55 361.87,60.21 362.41,60.5 362.96,60.3 363.5,60.07 364.05,59.92 364.4,77.68 364.67,71.57 364.95,67.52 365.22,64.58 365.5,62.84 365.77,61.94 366.05,61.23 366.32,60.64 366.6,60.23 367.1,59.82 367.61,59.47 368.11,59.56 368.62,59.59 369.12,59.78 369.63,59.57 370.13,59.63 370.64,59.37 371.14,59.19 371.65,59.15 372.15,59.45 372.5,77.9 372.77,71.09 373.05,66.67 373.32,64.12 373.6,62.4 373.88,61.09 374.15,60.24 374.43,59.93 374.7,59.72 375.21,58.74 375.73,58.59 376.24,58.69 376.75,58.67 377.27,58.74 377.78,58.45 378.3,58.69 378.81,58.6 379.32,58.43 379.84,58.22 380.35,58.55 380.7,77.71 380.97,71.03 381.25,66.24 381.52,63.33 381.8,61.7 382.07,60.23 382.35,59.75 382.62,58.99 382.9,58.47 383.41,57.84 383.93,57.88 384.44,57.95 384.95,58.03 385.47,57.57 385.98,57.64 386.5,57.49 387.01,57.82 387.52,57.35 388.04,57.24 388.55,57.19 388.9,77.75 389.17,70.75 389.45,66.05 389.72,62.92 390,61.07 390.27,59.75 390.55,58.6 390.82,57.97 391.1,57.97 391.7,57.19" fill="none" stroke="#ff0000" stroke-width="0.9" stroke-linejoin="round" />
<text x="383.9" y="91.4" font-size="8.5" text-anchor="start" fill="#000" stroke="#000"  font-family="Liberation Serif">enlarged</text>
<line x1="383.3" y1="91.6" x2="380.82" y2="88" stroke="#000" stroke-width="0.9" />
<polygon points="377.3,82.9 382.38,86.93 379.26,89.08" fill="#000"/>
<polyline points="315.5,106.27 316.03,106.72 316.6,106.52 317.22,106.52 317.88,106.49 318.58,106.37 319.32,106.26 320.1,106.45 320.92,106.5 321.77,106.92 322.65,106.34 323.57,106.93 324.52,106.4 325.49,106.5 326.5,106.83 327.53,106.83 328.59,106.56 329.66,106.29 330.77,106.58 331.89,106.51 333.03,106.89 334.18,106.38 335.36,106.5 336.54,106.88 337.74,106.27 338.96,106.54 340.18,106.82 341.41,106.78 342.64,106.28 343.88,106.27 345.13,106.29 346.38,106.89 347.62,106.43 348.87,106.78 350.12,106.88 351.36,106.49 352.59,106.45 353.82,106.93 355.04,106.69 356.26,106.45 357.46,106.77 358.64,106.49 359.82,106.47 360.98,106.28 362.12,106.81 363.24,106.93 364.34,106.74 365.42,106.96 366.48,106.32 367.51,106.48 368.52,106.65 369.49,107 370.44,107 371.36,106.62 372.25,106.53 373.1,106.67 373.92,106.72 374.7,107.04 375.44,106.53 376.14,106.97 376.81,106.94 377.43,107.01 378,106.99 382.19,107.07 383.92,107.13 384.08,107.42 383.56,107.76 383.24,108.34 384,108.11 384.78,108.29 385.62,108.79 386.53,108.55 387.49,108.53 388.5,108.62 389.54,109.08 390.61,109.02 391.71,109.57 392.81,109.58 393.92,109.72 395.03,109.27 396.13,109.18 397.2,109.22 398.2,109.51 399.23,109.65 400.28,109.46 401.35,109.29 402.42,109.38 403.5,109.48 404.58,109.47 405.65,109.47 406.71,109.47 407.75,109.27 408.76,108.81 409.75,109.23 410.69,108.75 411.6,108.85 412.56,108.55 413.08,108.6 413.34,107.99 413.5,107.77 413.73,107.52 414.2,107.2 415.09,107.47 416.55,107.05 418.77,106.7 421.9,106.63 422.51,107.03 423.16,106.68 423.85,106.47 424.58,106.86 425.34,106.74 426.14,106.97 426.98,106.33 427.84,106.59 428.74,106.82 429.67,106.83 430.62,106.87 431.6,106.25 432.61,106.42 433.64,106.3 434.7,106.34 435.77,106.89 436.87,106.61 437.99,106.85 439.12,106.46 440.27,106.8 441.43,106.51 442.61,106.38 443.79,106.74 444.99,106.86 446.2,106.28 447.41,106.62 448.64,106.64 449.86,106.36 451.09,106.47 452.32,106.32 453.56,106.37 454.79,106.41 456.02,106.66 457.24,106.7 458.47,106.39 459.68,106.26 460.89,106.49 462.09,106.75 463.28,106.41 464.45,106.51 465.62,106.44 466.77,106.86 467.9,106.7 469.02,106.37 470.12,106.41 471.19,106.63 472.25,106.75 473.29,106.82 474.3,106.45 475.28,106.51 476.24,106.89 477.17,106.71 478.07,106.63 478.93,106.66 479.77,107.12 480.57,106.69 481.34,106.88 482.07,106.75 482.76,106.8 483.42,107.13 484.03,107.23 484.6,106.8 489.39,106.92 491.01,107.62 490.78,107.62 490,107.81 490,108.68 491.09,108.51 492.8,108.92 493.54,108.74 494.41,109.2 495.4,109.07 496.48,109.03 497.61,109.1 498.77,109.65 499.93,109.86 501.05,110.17 502.12,109.68 503.1,110.09 504.25,109.89 505.39,109.91 506.5,109.54 507.58,109.48 508.61,109.46 509.58,109.54 510.48,108.75 511.3,108.79 512.38,108.44 512.97,107.84 513.78,106.63 515.5,106.14 516.22,106.65 517.07,106.63 518.05,106.26 519.12,105.96 520.26,106.58 521.44,106.22 522.65,106.62 523.87,106.45 525.06,106.64 526.21,106.21 527.29,106.69 528.29,106.34 529.17,106.5 529.91,106.83 530.5,106.83" fill="none" stroke="#0000ff" stroke-width="1.8" stroke-linejoin="round" />
<rect x="378.6" y="106.2" width="5.2" height="5.8" fill="#0000ff"/>
<rect x="484.6" y="106.2" width="5" height="5.8" fill="#0000ff" opacity="0.85"/>
<line x1="344.6" y1="106.6" x2="344.6" y2="149.4" stroke="#0000ff" stroke-width="1.4" />
<line x1="452" y1="106.6" x2="452" y2="149.4" stroke="#0000ff" stroke-width="1.3" />
<ellipse cx="380.5" cy="108.9" rx="7.3" ry="5.3" fill="none" stroke="#1e9a1e" stroke-width="1.2" stroke-dasharray="2.6 1.4"/>
<text x="388.2" y="119.2" font-size="8.5" text-anchor="start" fill="#000" stroke="#000"  font-family="Liberation Serif">enlarged</text>
<line x1="382.7" y1="115.1" x2="384.64" y2="117.43" stroke="#000" stroke-width="0.9" />
<polygon points="388.6,122.2 383.18,118.65 386.1,116.22" fill="#000"/>
<rect x="376.2" y="123.4" width="41.6" height="22.2" fill="#fff" stroke="#5e5e5e" stroke-width="1"/>
<text x="376.4" y="149.6" font-size="4.6" text-anchor="middle" fill="#111" stroke="#111"  font-family="Liberation Serif">240</text>
<text x="387.2" y="149.6" font-size="4.6" text-anchor="middle" fill="#111" stroke="#111"  font-family="Liberation Serif">246</text>
<text x="398.5" y="149.6" font-size="4.6" text-anchor="middle" fill="#111" stroke="#111"  font-family="Liberation Serif">252</text>
<text x="408.7" y="149.6" font-size="4.6" text-anchor="middle" fill="#111" stroke="#111"  font-family="Liberation Serif">258</text>
<polyline points="376.7,126.37 377.2,125.94 377.7,125.68 378.2,125.61 378.7,125.67 379.2,125.9 379.7,126.4 380.2,144.09 380.55,138.69 380.9,134.58 381.25,132.21 381.6,130.51 381.95,129 382.3,128.48 382.65,127.61 383,127.41 383.53,126.24 384.06,126.02 384.59,125.69 385.12,125.61 385.65,125.63 386.18,125.61 386.71,125.84 387.24,125.95 387.77,126.2 388.3,126.31 388.8,144.05 389.15,138.52 389.5,134.66 389.85,132.29 390.2,130.52 390.55,129.17 390.9,128.22 391.25,127.76 391.6,127.21 392.13,126.07 392.66,125.94 393.19,125.61 393.72,125.62 394.25,125.6 394.78,125.46 395.31,125.83 395.84,125.8 396.37,126.32 396.9,126.61 397.4,144 397.75,138.35 398.1,134.77 398.45,132.13 398.8,130.59 399.15,129.04 399.5,128.49 399.85,127.97 400.2,127.46 400.73,126.37 401.25,125.89 401.78,126.01 402.31,125.68 402.84,125.79 403.36,125.78 403.89,125.55 404.42,125.94 404.95,126.19 405.47,126.07 406,126.44 406.5,144.1 406.85,138.39 407.2,134.93 407.55,132.09 407.9,130.53 408.25,129.04 408.6,128.35 408.95,127.94 409.3,127.25 409.83,126.1 410.37,125.92 410.9,125.65 411.43,125.43 411.97,125.49 412.5,125.59 413.03,126.1 413.57,126.26 414.1,126.66 414.6,143.87 414.94,138.8 415.28,134.84 415.61,132.43 415.95,130.67 416.29,129.31 416.62,128.65 416.96,127.91 417.3,127.5" fill="none" stroke="#0000ff" stroke-width="1.1" stroke-linejoin="round" />
<text x="507.8" y="146.3" font-size="17.3" text-anchor="start" fill="#000" stroke="#000"  font-family="Liberation Serif">(b)</text>
<line x1="33" y1="195.2" x2="248" y2="195.2" stroke="#000" stroke-width="1" />
<line x1="33" y1="245.5" x2="248" y2="245.5" stroke="#000" stroke-width="1" />
<line x1="33" y1="295.5" x2="248" y2="295.5" stroke="#000" stroke-width="1" />
<line x1="33" y1="345.2" x2="248" y2="345.2" stroke="#000" stroke-width="1" />
<line x1="33.5" y1="194.7" x2="33.5" y2="345.7" stroke="#000" stroke-width="1" />
<line x1="247.5" y1="194.7" x2="247.5" y2="345.7" stroke="#000" stroke-width="1" />
<line x1="33.5" y1="245.5" x2="33.5" y2="242.5" stroke="#000" stroke-width="0.9" />
<line x1="59.69" y1="245.5" x2="59.69" y2="243.7" stroke="#000" stroke-width="0.9" />
<line x1="85.88" y1="245.5" x2="85.88" y2="242.5" stroke="#000" stroke-width="0.9" />
<line x1="112.06" y1="245.5" x2="112.06" y2="243.7" stroke="#000" stroke-width="0.9" />
<line x1="138.25" y1="245.5" x2="138.25" y2="242.5" stroke="#000" stroke-width="0.9" />
<line x1="164.44" y1="245.5" x2="164.44" y2="243.7" stroke="#000" stroke-width="0.9" />
<line x1="190.63" y1="245.5" x2="190.63" y2="242.5" stroke="#000" stroke-width="0.9" />
<line x1="216.81" y1="245.5" x2="216.81" y2="243.7" stroke="#000" stroke-width="0.9" />
<line x1="243" y1="245.5" x2="243" y2="242.5" stroke="#000" stroke-width="0.9" />
<line x1="33.5" y1="295.5" x2="33.5" y2="292.5" stroke="#000" stroke-width="0.9" />
<line x1="59.69" y1="295.5" x2="59.69" y2="293.7" stroke="#000" stroke-width="0.9" />
<line x1="85.88" y1="295.5" x2="85.88" y2="292.5" stroke="#000" stroke-width="0.9" />
<line x1="112.06" y1="295.5" x2="112.06" y2="293.7" stroke="#000" stroke-width="0.9" />
<line x1="138.25" y1="295.5" x2="138.25" y2="292.5" stroke="#000" stroke-width="0.9" />
<line x1="164.44" y1="295.5" x2="164.44" y2="293.7" stroke="#000" stroke-width="0.9" />
<line x1="190.63" y1="295.5" x2="190.63" y2="292.5" stroke="#000" stroke-width="0.9" />
<line x1="216.81" y1="295.5" x2="216.81" y2="293.7" stroke="#000" stroke-width="0.9" />
<line x1="243" y1="295.5" x2="243" y2="292.5" stroke="#000" stroke-width="0.9" />
<line x1="33.5" y1="345.2" x2="33.5" y2="342.2" stroke="#000" stroke-width="0.9" />
<line x1="59.69" y1="345.2" x2="59.69" y2="343.4" stroke="#000" stroke-width="0.9" />
<line x1="85.88" y1="345.2" x2="85.88" y2="342.2" stroke="#000" stroke-width="0.9" />
<line x1="112.06" y1="345.2" x2="112.06" y2="343.4" stroke="#000" stroke-width="0.9" />
<line x1="138.25" y1="345.2" x2="138.25" y2="342.2" stroke="#000" stroke-width="0.9" />
<line x1="164.44" y1="345.2" x2="164.44" y2="343.4" stroke="#000" stroke-width="0.9" />
<line x1="190.63" y1="345.2" x2="190.63" y2="342.2" stroke="#000" stroke-width="0.9" />
<line x1="216.81" y1="345.2" x2="216.81" y2="343.4" stroke="#000" stroke-width="0.9" />
<line x1="243" y1="345.2" x2="243" y2="342.2" stroke="#000" stroke-width="0.9" />
<text x="32.8" y="356.5" font-size="12.5" text-anchor="middle" fill="#000" stroke="#000"  font-family="Liberation Serif">0</text>
<text x="85.17" y="356.5" font-size="12.5" text-anchor="middle" fill="#000" stroke="#000"  font-family="Liberation Serif">200</text>
<text x="137.55" y="356.5" font-size="12.5" text-anchor="middle" fill="#000" stroke="#000"  font-family="Liberation Serif">400</text>
<text x="189.93" y="356.5" font-size="12.5" text-anchor="middle" fill="#000" stroke="#000"  font-family="Liberation Serif">600</text>
<text x="242.3" y="356.5" font-size="12.5" text-anchor="middle" fill="#000" stroke="#000"  font-family="Liberation Serif">800</text>
<text x="138" y="368.7" font-size="12.5" text-anchor="middle" fill="#000" stroke="#000"  font-family="Liberation Serif">Time (&#956;s)</text>
<line x1="33.5" y1="197.34" x2="36.5" y2="197.34" stroke="#000" stroke-width="0.9" />
<line x1="33.5" y1="203.88" x2="35.3" y2="203.88" stroke="#000" stroke-width="0.9" />
<line x1="33.5" y1="210.42" x2="36.5" y2="210.42" stroke="#000" stroke-width="0.9" />
<line x1="33.5" y1="216.96" x2="35.3" y2="216.96" stroke="#000" stroke-width="0.9" />
<line x1="33.5" y1="223.5" x2="36.5" y2="223.5" stroke="#000" stroke-width="0.9" />
<line x1="33.5" y1="230.04" x2="35.3" y2="230.04" stroke="#000" stroke-width="0.9" />
<line x1="33.5" y1="236.58" x2="36.5" y2="236.58" stroke="#000" stroke-width="0.9" />
<line x1="33.5" y1="243.12" x2="35.3" y2="243.12" stroke="#000" stroke-width="0.9" />
<text x="31.3" y="200.64" font-size="12.5" text-anchor="end" fill="#000" stroke="#000"  font-family="Liberation Serif">12</text>
<text x="31.3" y="214.42" font-size="12.5" text-anchor="end" fill="#000" stroke="#000"  font-family="Liberation Serif">6</text>
<text x="31.3" y="227.5" font-size="12.5" text-anchor="end" fill="#000" stroke="#000"  font-family="Liberation Serif">0</text>
<text x="31.3" y="240.58" font-size="12.5" text-anchor="end" fill="#000" stroke="#000"  font-family="Liberation Serif">-6</text>
<line x1="34.5" y1="208.24" x2="247.5" y2="208.24" stroke="#3535c8" stroke-width="1.35" stroke-dasharray="5.05 5.05"/>
<polyline points="33.5,234.72 34,234.32 34.5,233.9 35,233.48 35.5,233.04 36,232.6 36.5,232.15 37,231.69 37.5,231.23 38,230.76 38.5,230.28 39,229.79 39.5,229.3 40,228.8 40.5,228.3 41,227.79 41.5,227.28 42,226.77 42.5,226.25 43,225.73 43.5,225.21 44,224.68 44.5,224.15 45,223.63 45.5,223.1 46,222.57 46.5,222.05 47,221.52 47.5,220.99 48,220.47 48.5,219.95 49,219.43 49.5,218.92 50,218.41 50.5,217.9 51,217.4 51.5,216.9 52,216.41 52.5,215.92 53,215.44 53.5,214.97 54,214.51 54.5,214.05 55,213.6 55.5,213.16 56,212.72 56.5,212.3 57,211.88 57.5,211.48 58,211.09 58.5,210.7 59,210.33 59.5,209.97 60,209.62 60.5,209.28 61,208.95 61.5,208.64 62,208.34 62.5,208.05 63,207.77 63.5,207.51 64,207.26 64.5,207.03 65,206.81 65.5,206.6 66,206.41 66.5,206.24 67,206.08 67.5,205.93 68,205.8 68.5,205.68 69,205.58 69.5,205.5 70,205.42 70.5,205.37 71,205.33 71.5,205.31 72,205.3 72.5,205.31 73,205.33 73.5,205.37 74,205.42 74.5,205.5 75,205.58 75.5,205.68 76,205.8 76.5,205.93 77,206.08 77.5,206.24 78,206.41 78.5,206.6 79,206.81 79.5,207.03 80,207.26 80.5,207.51 81,207.77 81.5,208.05 82,208.34 82.5,208.64 83,208.95 83.5,209.28 84,209.62 84.5,209.97 85,210.33 85.5,210.7 86,211.09 86.5,211.48 87,211.88 87.5,212.3 88,212.72 88.5,213.16 89,213.6 89.5,214.05 90,214.51 90.5,214.97 91,215.44 91.5,215.92 92,216.41 92.5,216.9 93,217.4 93.5,217.9 94,218.41 94.5,218.92 95,219.43 95.5,219.95 96,220.47 96.5,220.99 97,221.52 97.5,222.05 98,222.57 98.5,223.1 99,223.63 99.5,224.15 100,224.68 100.5,225.21 101,225.73 101.5,226.25 102,226.77 102.5,227.28 103,227.79 103.5,228.3 104,228.8 104.5,229.3 105,229.79 105.5,230.28 106,230.76 106.5,231.23 107,231.69 107.5,232.15 108,232.6 108.5,233.04 109,233.48 109.5,233.9 110,234.32 110.5,234.72 111,235.11 111.5,235.5 112,235.87 112.5,236.23 113,236.58 113.5,236.92 114,237.25 114.5,237.56 115,237.86 115.5,238.15 116,238.43 116.5,238.69 117,238.94 117.5,239.17 118,239.39 118.5,239.6 119,239.79 119.5,239.96 120,240.12 120.5,240.27 121,240.4 121.5,240.52 122,240.62 122.5,240.7 123,240.78 123.5,240.83 124,240.87 124.5,240.89 125,240.9 125.5,240.89 126,240.87 126.5,240.83 127,240.78 127.5,240.7 128,240.62 128.5,240.52 129,240.4 129.5,240.27 130,240.12 130.5,239.96 131,239.79 131.5,239.6 132,239.39 132.5,239.17 133,238.94 133.5,238.69 134,238.43 134.5,238.15 135,237.86 135.5,237.56 136,237.25 136.5,236.92 137,236.58 137.5,236.23 138,235.87 138.5,235.5 139,235.11 139.5,234.72 140,234.32 140.5,233.9 141,233.48 141.5,233.04 142,232.6 142.5,232.15 143,231.69 143.5,231.23 144,230.76 144.5,230.28 145,229.79 145.5,229.3 146,228.8 146.5,228.3 147,227.79 147.5,227.28 148,226.77 148.5,226.25 149,225.73 149.5,225.21 150,224.68 150.5,224.15 151,223.63 151.5,223.1 152,222.57 152.5,222.05 153,221.52 153.5,220.99 154,220.47 154.5,219.95 155,219.43 155.5,218.92 156,218.41 156.5,217.9 157,217.4 157.5,216.9 158,216.41 158.5,215.92 159,215.44 159.5,214.97 160,214.51 160.5,214.05 161,213.6 161.5,213.16 162,212.72 162.5,212.3 163,211.88 163.5,211.48 164,211.09 164.5,210.7 165,210.33 165.5,209.97 166,209.62 166.5,209.28 167,208.95 167.5,208.64 168,208.34 168.5,208.05 169,207.77 169.5,207.51 170,207.26 170.5,207.03 171,206.81 171.5,206.6 172,206.41 172.5,206.24 173,206.08 173.5,205.93 174,205.8 174.5,205.68 175,205.58 175.5,205.5 176,205.42 176.5,205.37 177,205.33 177.5,205.31 178,205.3 178.5,205.31 179,205.33 179.5,205.37 180,205.42 180.5,205.5 181,205.58 181.5,205.68 182,205.8 182.5,205.93 183,206.08 183.5,206.24 184,206.41 184.5,206.6 185,206.81 185.5,207.03 186,207.26 186.5,207.51 187,207.77 187.5,208.05 188,208.34 188.5,208.64 189,208.95 189.5,209.28 190,209.62 190.5,209.97 191,210.33 191.5,210.7 192,211.09 192.5,211.48 193,211.88 193.5,212.3 194,212.72 194.5,213.16 195,213.6 195.5,214.05 196,214.51 196.5,214.97 197,215.44 197.5,215.92 198,216.41 198.5,216.9 199,217.4 199.5,217.9 200,218.41 200.5,218.92 201,219.43 201.5,219.95 202,220.47 202.5,220.99 203,221.52 203.5,222.05 204,222.57 204.5,223.1 205,223.63 205.5,224.15 206,224.68 206.5,225.21 207,225.73 207.5,226.25 208,226.77 208.5,227.28 209,227.79 209.5,228.3 210,228.8 210.5,229.3 211,229.79 211.5,230.28 212,230.76 212.5,231.23 213,231.69 213.5,232.15 214,232.6 214.5,233.04 215,233.48 215.5,233.9 216,234.32 216.5,234.72 217,235.11 217.5,235.5 218,235.87 218.5,236.23 219,236.58 219.5,236.92 220,237.25 220.5,237.56 221,237.86 221.5,238.15 222,238.43 222.5,238.69 223,238.94 223.5,239.17 224,239.39 224.5,239.6 225,239.79 225.5,239.96 226,240.12 226.5,240.27 227,240.4 227.5,240.52 228,240.62 228.5,240.7 229,240.78 229.5,240.83 230,240.87 230.5,240.89 231,240.9 231.5,240.89 232,240.87 232.5,240.83 233,240.78 233.5,240.7 234,240.62 234.5,240.52 235,240.4 235.5,240.27 236,240.12 236.5,239.96 237,239.79 237.5,239.6 238,239.39 238.5,239.17 239,238.94 239.5,238.69 240,238.43 240.5,238.15 241,237.86 241.5,237.56 242,237.25 242.5,236.92 243,236.58 243.5,236.23 244,235.87 244.5,235.5 245,235.11 245.5,234.72 246,234.32 246.5,233.9 247,233.48 247.5,233.04" fill="none" stroke="#000" stroke-width="2.1" stroke-linejoin="round" />
<text x="97.2" y="205.7" font-size="12.3" fill="#1b1b96" stroke="#1b1b96" font-family="Liberation Serif"><tspan font-style="italic">V</tspan><tspan font-size="10.5" dy="3">b</tspan><tspan dy="-3">=7.0 kV</tspan></text>
<text x="95.4" y="238.6" font-size="14" fill="#000" stroke="#000" font-family="Liberation Serif"><tspan font-style="italic">V</tspan><tspan font-size="10" font-style="italic" dy="2.6">s</tspan></text>
<text transform="translate(4.4,218.62) rotate(-90)" x="0" y="0" font-size="12.5" text-anchor="middle" dominant-baseline="central" stroke="#000" font-family="Liberation Serif"><tspan font-style="italic">U</tspan> (kV)</text>
<text transform="translate(4.74,269.62) rotate(-90)" x="0" y="0" font-size="12.5" text-anchor="middle" dominant-baseline="central" stroke="#000" font-family="Liberation Serif"><tspan font-style="italic">I</tspan><tspan font-size="10" font-style="italic">c</tspan> (mA)</text>
<text transform="translate(3.9,321) rotate(-90)" x="0" y="0" font-size="12.5" text-anchor="middle" dominant-baseline="central" stroke="#000" font-family="Liberation Serif"><tspan font-style="italic">I</tspan><tspan font-size="10" font-style="italic">e</tspan>(a.u.)</text>
<line x1="33.5" y1="287.6" x2="36.5" y2="287.6" stroke="#000" stroke-width="0.9" />
<line x1="33.5" y1="280.4" x2="35.3" y2="280.4" stroke="#000" stroke-width="0.9" />
<line x1="33.5" y1="273.2" x2="36.5" y2="273.2" stroke="#000" stroke-width="0.9" />
<line x1="33.5" y1="266" x2="35.3" y2="266" stroke="#000" stroke-width="0.9" />
<line x1="33.5" y1="258.8" x2="36.5" y2="258.8" stroke="#000" stroke-width="0.9" />
<line x1="33.5" y1="251.6" x2="35.3" y2="251.6" stroke="#000" stroke-width="0.9" />
<text x="31.3" y="293" font-size="12.5" text-anchor="end" fill="#000" stroke="#000"  font-family="Liberation Serif">-0.1</text>
<text x="31.3" y="278.6" font-size="12.5" text-anchor="end" fill="#000" stroke="#000"  font-family="Liberation Serif">0.0</text>
<text x="31.3" y="264.2" font-size="12.5" text-anchor="end" fill="#000" stroke="#000"  font-family="Liberation Serif">0.1</text>
<text x="31.3" y="249.8" font-size="12.5" text-anchor="end" fill="#000" stroke="#000"  font-family="Liberation Serif">0.2</text>
<line x1="33.5" y1="302" x2="36.5" y2="302" stroke="#000" stroke-width="0.9" />
<line x1="33.5" y1="308.16" x2="35.3" y2="308.16" stroke="#000" stroke-width="0.9" />
<line x1="33.5" y1="314.32" x2="36.5" y2="314.32" stroke="#000" stroke-width="0.9" />
<line x1="33.5" y1="320.48" x2="35.3" y2="320.48" stroke="#000" stroke-width="0.9" />
<line x1="33.5" y1="326.64" x2="36.5" y2="326.64" stroke="#000" stroke-width="0.9" />
<line x1="33.5" y1="332.8" x2="35.3" y2="332.8" stroke="#000" stroke-width="0.9" />
<line x1="33.5" y1="338.96" x2="36.5" y2="338.96" stroke="#000" stroke-width="0.9" />
<text x="31.3" y="306.6" font-size="12.5" text-anchor="end" fill="#000" stroke="#000"  font-family="Liberation Serif">-0.0</text>
<text x="31.3" y="318.92" font-size="12.5" text-anchor="end" fill="#000" stroke="#000"  font-family="Liberation Serif">-0.4</text>
<text x="31.3" y="331.24" font-size="12.5" text-anchor="end" fill="#000" stroke="#000"  font-family="Liberation Serif">-0.8</text>
<text x="31.3" y="343.56" font-size="12.5" text-anchor="end" fill="#000" stroke="#000"  font-family="Liberation Serif">-1.2</text>
<polyline points="33.5,249.87 33.92,249.25 34.51,249.76 35.23,249.44 36,249.33 36.52,249.71 37.05,249.47 37.62,250.16 38.25,250.09 38.97,250.24 39.8,250.89 40.24,250.85 40.71,250.88 41.23,251.49 41.76,251.24 42.32,252.03 42.9,251.89 43.48,252.44 44.06,252.97 44.64,252.99 45.21,253.37 45.77,253.45 46.3,253.59 46.8,253.97 47.28,254.44 47.74,255.19 48.19,255.5 48.63,256.02 49.06,256.77 49.48,256.72 49.9,257.29 50.32,258.09 50.73,258.15 51.14,258.63 51.56,259.37 51.98,259.67 52.4,260.3 52.86,260.68 53.31,261.39 53.75,261.84 54.19,262 54.62,262.72 55.06,263.05 55.51,263.25 55.96,264.25 56.42,264.23 56.9,264.63 57.39,265.09 57.9,266 58.3,266.57 58.7,266.94 59.12,267.13 59.54,267.49 59.98,267.79 60.42,268.72 60.86,269.15 61.31,269.49 61.76,270.19 62.21,270.53 62.66,271.36 63.11,271.7 63.57,271.82 64.01,272.73 64.46,272.56 64.9,273.32 65.4,273.69 65.9,274.03 66.4,274.34 66.9,275.28 67.4,275.16 67.9,275.95 68.4,276.63 68.9,276.46 69.4,276.89 69.9,277.55 70.4,277.85 70.9,278.3 71.4,278.78 71.9,278.67 72.44,279.13 73,279.48 73.56,279.66 74.12,280.59 74.69,280.85 75.25,281.13 75.81,280.95 76.36,281.83 76.9,282.04 77.43,282.11 77.94,282.55 78.43,282.57 78.9,282.61 79.61,282.8 80.27,283.11 80.89,283.14 81.48,283.47 82.05,283.85 82.62,283.87 83.2,284.02 83.8,283.95 84.41,283.64 85.02,283.81 85.64,283.66 86.25,283.82 86.86,283.53 87.47,283.22 88.09,283.35 88.7,283.43 89.3,282.75 89.88,283.05 90.45,282.27 91.03,282.25 91.62,282.02 92.23,282.14 92.89,282.01 93.6,281.57 94.11,281.06 94.65,281.22 95.22,280.59 95.8,280.27 96.4,280.47 97.01,280 97.62,279.75 98.23,279.43 98.83,279.34 99.41,278.66 99.97,278.58 100.5,278.14 101.01,277.89 101.49,277.22 101.96,277.03 102.41,276.51 102.86,275.91 103.29,275.42 103.73,275.27 104.17,274.45 104.61,274.6 105.06,273.62 105.52,273.1 106,272.72 106.46,272.9 106.92,272.1 107.39,271.55 107.87,271.07 108.35,270.68 108.84,270.73 109.33,270.28 109.81,269.92 110.3,269.54 110.78,268.65 111.26,268.6 111.73,268.03 112.2,267.92 112.66,267.5 113.11,267.11 113.55,266.09 113.99,266.2 114.42,265.78 114.86,265.34 115.29,264.31 115.73,263.92 116.17,263.41 116.62,262.92 117.07,263.06 117.53,262.62 118,262.09 118.48,261.83 118.97,261.31 119.47,260.68 119.98,260.17 120.49,259.8 121,259.9 121.52,259.15 122.04,258.88 122.56,258.62 123.07,258 123.59,257.84 124.1,257.55 124.6,257.55 125.19,256.97 125.78,256.6 126.37,256.74 126.96,256.12 127.55,256.07 128.14,255.63 128.72,254.95 129.3,254.96 129.87,254.73 130.44,254.73 131,254.19 131.63,254.19 132.29,253.83 132.95,253.37 133.62,253.59 134.27,252.84 134.9,253.15 135.49,252.51 136.03,252.22 136.5,252.22 136.9,252.48 137.84,252.52 138.1,251.65 138.21,251.45 138.24,250.68 138.29,250.14 138.5,249.18 139.02,249.09 139.74,248.96 140.7,249.53 141.13,249.29 141.59,249.96 142.08,249.73 142.61,249.94 143.17,250.58 143.76,250.77 144.37,250.85 145,251.6 145.43,251.47 145.85,252.23 146.28,252.44 146.71,252.78 147.16,252.97 147.62,253.09 148.11,253.45 148.62,253.79 149.16,254.51 149.73,254.34 150.34,255.32 151,255.17 151.42,255.58 151.87,255.93 152.35,256.7 152.84,256.76 153.36,257.03 153.89,257.75 154.43,257.66 154.98,258.2 155.54,258.64 156.11,259.18 156.67,259.57 157.23,259.89 157.79,260.07 158.34,260.44 158.88,260.7 159.4,261.56 159.91,261.79 160.4,262.2 160.86,262.14 161.3,262.66 161.89,263.33 162.44,263.62 162.95,263.71 163.44,264.34 163.91,265.01 164.36,264.93 164.8,265.27 165.23,265.72 165.67,266.37 166.1,266.84 166.55,266.74 167.01,267.13 167.49,267.6 168,268.08 168.43,268.58 168.88,268.69 169.33,269.19 169.79,269.48 170.26,270.42 170.73,270.64 171.21,270.61 171.69,271.61 172.16,271.41 172.64,272.01 173.12,272.83 173.6,273.1 174.07,273.45 174.54,273.63 175,273.85 175.45,274.53 175.9,274.52 176.4,275.01 176.88,275.55 177.36,275.71 177.83,276.38 178.3,277.06 178.76,277.4 179.23,277.66 179.69,278.14 180.15,278.41 180.61,278.56 181.08,279.25 181.55,279.46 182.02,280.04 182.51,280.48 183,280.45 183.54,280.88 184.1,281.32 184.66,281.42 185.24,281.6 185.82,282.25 186.4,282.66 186.98,282.86 187.56,283.06 188.13,283.4 188.7,283.48 189.25,283.63 189.78,283.63 190.3,283.62 190.8,283.89 191.47,283.49 192.11,283.59 192.73,283.63 193.33,283.3 193.91,282.91 194.48,282.29 195.03,282.05 195.56,281.73 196.09,281.54 196.6,281.14 197.3,281.04 197.96,280.97 198.59,280.22 199.19,280.34 199.79,280.19 200.39,279.65 201,279.39 201.54,279.38 202.06,278.31 202.58,278.22 203.11,277.49 203.63,277.47 204.17,277.16 204.72,276.5 205.3,275.92 205.89,276.1 206.49,276.06 207.09,276.24 207.71,276.18 208.35,276.31 209.01,276.4 209.69,276 210.4,275.54 210.77,275.63 211.14,274.78 211.52,274.74 211.91,274.11 212.3,273.92 212.7,272.98 213.1,273.08 213.51,272.12 213.93,271.37 214.34,270.98 214.76,270.53 215.19,269.73 215.61,269.49 216.04,268.98 216.47,268.69 216.9,268 217.34,267.5 217.78,267.04 218.24,266.98 218.7,266.7 219.17,265.99 219.64,265.36 220.12,265.36 220.59,264.67 221.07,264.14 221.54,263.68 222,263.74 222.46,263.37 222.91,262.86 223.35,262.35 223.78,262.03 224.2,261.41 224.7,261.45 225.17,260.54 225.64,260.25 226.1,259.89 226.54,259.41 226.98,258.69 227.41,258.1 227.84,257.82 228.26,257.09 228.69,257.16 229.12,256.42 229.56,256.39 230,255.64 230.58,255.3 231.17,254.84 231.76,254.62 232.35,254.14 232.94,253.73 233.53,253.98 234.11,253.42 234.68,253.17 235.25,252.98 235.8,252.89 236.49,252.59 237.2,252.5 237.91,252.3 238.61,251.9 239.27,252.12 239.88,251.91 240.43,251.22 240.9,251.63 242.03,251.54 242.6,251.2 242.8,250.2 242.89,249.92 243.01,249.07 243.3,248.26 243.73,248.3 244.3,249.21 244.92,249.38 245.51,249.5 246,249.72 246.61,250.21 247.09,250.71 247.4,251.39" fill="none" stroke="#ff0000" stroke-width="2.2" stroke-linejoin="round" />
<rect x="94" y="278.5" width="6.2" height="12.4" fill="#ff3a3a"/>
<rect x="94" y="278.5" width="7" height="4" fill="#ff0000"/>
<line x1="99.2" y1="280" x2="99.2" y2="290.9" stroke="#ff0000" stroke-width="1.4" />
<rect x="201.3" y="278.5" width="6.2" height="12.8" fill="#ff5a5a"/>
<line x1="201.8" y1="278" x2="201.8" y2="291.3" stroke="#ff0000" stroke-width="0.8" />
<line x1="203.6" y1="278" x2="203.6" y2="291.3" stroke="#ff0000" stroke-width="0.8" />
<line x1="205.4" y1="278" x2="205.4" y2="291.3" stroke="#ff0000" stroke-width="0.8" />
<line x1="207" y1="278" x2="207" y2="291.3" stroke="#ff0000" stroke-width="0.8" />
<ellipse cx="97.8" cy="284.3" rx="5.2" ry="10.3" fill="none" stroke="#1e9a1e" stroke-width="1.2" stroke-dasharray="2.6 1.4"/>
<rect x="123.4" y="262.3" width="34.5" height="20.9" fill="#fff" stroke="#5e5e5e" stroke-width="1"/>
<text x="126.2" y="285.9" font-size="4.6" text-anchor="middle" fill="#111" stroke="#111"  font-family="Liberation Serif">234</text>
<text x="134.6" y="285.9" font-size="4.6" text-anchor="middle" fill="#111" stroke="#111"  font-family="Liberation Serif">240</text>
<text x="142.2" y="285.9" font-size="4.6" text-anchor="middle" fill="#111" stroke="#111"  font-family="Liberation Serif">246</text>
<text x="150" y="285.9" font-size="4.6" text-anchor="middle" fill="#111" stroke="#111"  font-family="Liberation Serif">252</text>
<polyline points="123.9,268.27 124.47,268.11 125.04,268.33 125.61,268.21 126.19,267.88 126.76,268.09 127.33,267.89 127.9,267.88 128.2,282.07 128.51,277.08 128.82,273.74 129.14,271.61 129.45,269.94 129.76,269.21 130.07,268.53 130.39,268.2 130.7,267.79 131.21,267.46 131.73,267.26 132.24,267.07 132.76,266.98 133.27,266.87 133.79,266.94 134.3,266.7 134.6,281.99 134.91,276.47 135.22,273.1 135.54,270.82 135.85,269.34 136.16,268.48 136.47,267.49 136.79,267.39 137.1,266.94 137.63,266.43 138.16,266.4 138.69,266.4 139.21,266.14 139.74,266.08 140.27,266.22 140.8,265.79 141.1,282.05 141.41,276.34 141.72,272.38 142.04,270.2 142.35,268.64 142.66,267.7 142.97,266.78 143.29,266.57 143.6,266.07 144.11,265.49 144.63,265.59 145.14,265.17 145.66,265.37 146.17,265.26 146.69,265.08 147.2,265.21 147.5,281.95 147.81,275.96 148.12,272.06 148.44,269.61 148.75,267.72 149.06,266.71 149.38,265.98 149.69,265.55 150,265.33 150.55,264.52 151.1,264.65 151.65,264.41 152.2,264.37 152.75,264.2 153.3,264.22 153.6,282.19 153.91,275.73 154.22,271.67 154.54,268.81 154.85,267.05 155.16,265.9 155.47,265.25 155.79,264.77 156.1,264.48 157.5,263.44" fill="none" stroke="#ff0000" stroke-width="0.8" stroke-linejoin="round" />
<text x="104.7" y="291.6" font-size="8.5" text-anchor="start" fill="#000" stroke="#000"  font-family="Liberation Serif">enlarged</text>
<line x1="103.3" y1="287" x2="117.94" y2="277.88" stroke="#000" stroke-width="0.9" />
<polygon points="123.2,274.6 118.94,279.49 116.93,276.27" fill="#000"/>
<polyline points="33.5,301.48 34.5,301.61 35.51,301.34 36.51,300.94 37.52,301.14 38.52,300.9 39.53,301.05 40.53,301.64 41.54,301.39 42.54,301.43 43.55,301.53 44.55,301.63 45.56,301.39 46.56,301.39 47.57,301.4 48.57,301.46 49.58,301.38 50.58,301.44 51.59,301.07 52.59,301.43 53.6,301.27 54.6,301.51 55.61,300.98 56.61,301.05 57.62,300.93 58.62,301.52 59.63,301.63 60.63,301.42 61.64,301.2 62.64,301.56 63.65,301.53 64.65,301.35 65.66,301.11 66.66,301.14 67.67,301.24 68.67,301.15 69.68,301.24 70.68,301.41 71.69,301.65 72.69,300.94 73.7,301.35 74.7,300.93 75.71,301 76.71,301.55 77.72,301.36 78.72,301.63 79.73,301.26 80.73,300.91 81.74,301.21 82.74,301.37 83.75,301.65 84.75,301.68 85.76,301.28 86.76,301.23 87.77,300.98 88.77,301.42 89.78,301.07 90.78,301.02 91.79,300.91 92.79,300.9 93.8,301.45 94.8,301" fill="none" stroke="#0000ff" stroke-width="2.0" stroke-linejoin="round" />
<polyline points="101,310.22 101.27,309.7 101.63,310.77 102.06,310.54 102.53,310.92 103.03,312.05 103.54,312.11 104.04,313.01 104.5,312.92 105,313.2 105.49,314.22 105.97,314.52 106.47,314.99 106.96,315.19 107.47,314.92 108,315.72 108.54,316.09 109.1,316.15 109.66,316.86 110.24,316.51 110.82,317.39 111.41,317.4 112,316.96 112.59,317.15 113.17,317.91 113.75,318.23 114.34,317.71 114.96,318.01 115.61,318.43 116.3,317.9 116.87,318.46 117.45,318.02 118.06,317.5 118.68,317.62 119.32,317.61 119.97,317.27 120.64,317.23 121.32,316.48 122,316.77 122.53,316.13 123.07,316.12 123.64,315.82 124.21,315.33 124.79,314.99 125.38,315.02 125.96,314.82 126.53,314.33 127.1,313.77 127.65,313.16 128.19,312.58 128.7,313.03 129.19,312.4 129.66,312.12 130.12,311.28 130.57,311.11 131,311.03 131.43,310.47 131.86,309.83 132.28,309.13 132.7,308.8 133.13,308.76 133.56,307.85 134,307.67 134.4,307.15 134.77,306.94 135.13,306.35 135.48,305.36 135.83,304.58 136.19,304.29 136.55,303.92 136.94,303.57 137.35,303.31 137.8,302.94 138.28,301.79 138.81,302.17 139.4,301.88 139.87,301.77 140.35,301.38 140.84,301.01 141.34,301.47 141.85,301.39 142.38,301.26 142.93,301.46 143.49,300.97 144.09,300.76 144.71,301.22 145.35,301.48 146.03,300.99 146.75,301.52 147.5,301.73 148.29,301.13 149.12,301.49 150,301.56 150.47,301.37 150.96,301.14 151.47,301.18 151.98,301.63 152.52,301.68 153.06,301.38 153.62,301.05 154.19,301.71 154.78,301.68 155.37,301.21 155.97,301.53 156.58,301.82 157.2,301.82 157.82,301.5 158.46,301.47 159.09,301.58 159.73,301.23 160.38,301.24 161.03,301.24 161.68,301.72 162.33,301.42 162.99,301.61 163.64,301.48 164.29,301.59 164.94,301.26 165.59,301.17 166.24,302.04 166.88,301.48 167.52,301.24 168.15,301.72 168.77,301.86 169.39,301.29 170,301.69 170.61,301.46 171.23,301.61 171.85,301.16 172.48,301.17 173.11,302.02 173.75,301.9 174.39,301.55 175.04,301.62 175.69,301.33 176.34,301.79 176.99,301.46 177.63,301.92 178.28,301.74 178.93,301.78 179.58,301.9 180.22,301.25 180.86,301.04 181.49,301.18 182.12,301.14 182.74,301.05 183.36,301 183.97,301.45 184.57,301.72 185.17,301.34 185.75,301.77 186.32,301.72 186.89,300.95 187.44,301.42 187.98,301.23 188.5,300.98 189.02,301.72 189.52,301.09 190,301.36 190.82,301.42 191.62,301.7 192.4,301.44 193.16,301.18 193.91,301.23 194.62,300.97 195.32,301.7 195.99,301.72 196.64,301.03 197.26,300.87 197.85,301.06 198.41,301.15 198.94,301.65 199.43,301.66 199.9,301.6 200.33,300.89 200.72,301.56 201.08,301.49 201.4,301.43" fill="none" stroke="#0000ff" stroke-width="2.2" stroke-linejoin="round" />
<polyline points="207.9,304.44 207.9,303.99 207.87,304.61 207.88,305.8 207.97,306.7 208.2,307.26 208.41,307.4 208.67,308.19 208.97,308.91 209.31,308.91 209.67,309.7 210.04,310.24 210.41,310.7 210.76,311.57 211.1,311.8 211.5,312.48 211.88,312.99 212.26,314.04 212.65,313.98 213.06,315.12 213.51,315.11 214,315.38 214.55,316.54 215.15,316.2 215.79,317.1 216.44,317.26 217.11,317.48 217.76,316.99 218.4,317.45 219.02,317.32 219.63,318.25 220.24,318.34 220.86,318.3 221.47,318.25 222.08,318.23 222.7,318.69 223.32,318.37 223.95,318.46 224.58,317.94 225.22,317.89 225.85,317.58 226.48,317.96 227.1,317.55 227.64,316.9 228.18,317.22 228.72,316.31 229.25,316.03 229.78,315.37 230.32,315.03 230.86,315.07 231.4,314.15 231.84,313.62 232.27,313.5 232.71,312.93 233.15,313.03 233.59,311.88 234.04,312.21 234.48,310.93 234.92,311.24 235.36,310.59 235.8,309.74 236.24,309.54 236.69,308.93 237.15,308.47 237.6,307.97 238.05,307.68 238.5,307.8 238.94,307.36 239.37,306.86 239.79,305.67 240.2,305.41 240.64,305.45 241.08,304.16 241.51,304.2 241.93,303.26 242.34,303.34 242.73,301.98 243.11,302.24 243.47,301.45 243.8,300.98 244.67,300.5 245.38,301.37 246,301.32 246.84,301.52 247.4,302.24" fill="none" stroke="#0000ff" stroke-width="1.9" stroke-linejoin="round" />
<rect x="94.3" y="300.6" width="6.1" height="41.6" fill="#0000ff"/>
<rect x="201.0" y="300.5" width="6.8" height="40.5" fill="#0000ff"/>
<line x1="203" y1="306" x2="203" y2="340.6" stroke="#6a6aff" stroke-width="0.6" />
<line x1="205.4" y1="306" x2="205.4" y2="340.6" stroke="#6a6aff" stroke-width="0.6" />
<ellipse cx="97.5" cy="320.3" rx="6" ry="22.3" fill="none" stroke="#1e9a1e" stroke-width="1.2" stroke-dasharray="2.6 1.4"/>
<rect x="39.1" y="305.6" width="39.5" height="23" fill="#fff" stroke="#5e5e5e" stroke-width="1"/>
<text x="41.8" y="333" font-size="4.6" text-anchor="middle" fill="#111" stroke="#111"  font-family="Liberation Serif">234</text>
<text x="50.3" y="333" font-size="4.6" text-anchor="middle" fill="#111" stroke="#111"  font-family="Liberation Serif">240</text>
<text x="59.6" y="333" font-size="4.6" text-anchor="middle" fill="#111" stroke="#111"  font-family="Liberation Serif">246</text>
<text x="68.8" y="333" font-size="4.6" text-anchor="middle" fill="#111" stroke="#111"  font-family="Liberation Serif">252</text>
<polyline points="39.9,307.52 40.41,307.06 40.93,306.95 41.44,306.71 41.96,306.72 42.47,307.01 42.99,307.2 43.5,307.31 44.2,327.47 44.7,321.87 45.2,317.98 45.7,315.02 46.2,312.84 46.7,311.29 47.2,310.31 47.7,309.54 48.2,308.99 48.72,307.07 49.24,306.74 49.76,306.7 50.28,307.12 50.8,307.37 51.5,327.67 52,321.86 52.5,318.04 53,314.97 53.5,313.01 54,311.49 54.5,310.27 55,309.33 55.5,309.02 56,307.09 56.5,306.99 57,306.73 57.5,306.79 58,307.2 58.5,307.36 59.2,327.5 59.7,321.96 60.2,317.97 60.7,314.87 61.2,312.91 61.7,311.36 62.2,310.28 62.7,309.36 63.2,308.96 63.72,307.14 64.24,306.94 64.76,306.78 65.28,307.11 65.8,307.36 66.5,327.68 67,321.86 67.5,318.06 68,315.16 68.5,312.9 69,311.38 69.5,310.28 70,309.49 70.5,308.76 71.03,307.12 71.55,306.72 72.07,306.88 72.6,307.28 73.3,327.53 73.8,322.09 74.3,317.8 74.8,314.9 75.3,312.96 75.8,311.29 76.3,310.13 76.8,309.51 77.3,308.92 78.2,307.41" fill="none" stroke="#0000ff" stroke-width="1.0" stroke-linejoin="round" />
<text x="62.4" y="340.6" font-size="8.5" text-anchor="start" fill="#000" stroke="#000"  font-family="Liberation Serif">enlarged</text>
<line x1="92.2" y1="336.4" x2="84.74" y2="331.37" stroke="#000" stroke-width="0.9" />
<polygon points="79.6,327.9 85.8,329.79 83.68,332.94" fill="#000"/>
<text x="226.9" y="339.6" font-size="17.3" text-anchor="start" fill="#000" stroke="#000"  font-family="Liberation Serif">(c)</text>
<line x1="316" y1="195.2" x2="531.5" y2="195.2" stroke="#000" stroke-width="1" />
<line x1="316" y1="245.5" x2="531.5" y2="245.5" stroke="#000" stroke-width="1" />
<line x1="316" y1="295.5" x2="531.5" y2="295.5" stroke="#000" stroke-width="1" />
<line x1="316" y1="345.2" x2="531.5" y2="345.2" stroke="#000" stroke-width="1" />
<line x1="316.5" y1="194.7" x2="316.5" y2="345.7" stroke="#000" stroke-width="1" />
<line x1="531" y1="194.7" x2="531" y2="345.7" stroke="#000" stroke-width="1" />
<line x1="316.5" y1="245.5" x2="316.5" y2="242.5" stroke="#000" stroke-width="0.9" />
<line x1="342.69" y1="245.5" x2="342.69" y2="243.7" stroke="#000" stroke-width="0.9" />
<line x1="368.88" y1="245.5" x2="368.88" y2="242.5" stroke="#000" stroke-width="0.9" />
<line x1="395.06" y1="245.5" x2="395.06" y2="243.7" stroke="#000" stroke-width="0.9" />
<line x1="421.25" y1="245.5" x2="421.25" y2="242.5" stroke="#000" stroke-width="0.9" />
<line x1="447.44" y1="245.5" x2="447.44" y2="243.7" stroke="#000" stroke-width="0.9" />
<line x1="473.62" y1="245.5" x2="473.62" y2="242.5" stroke="#000" stroke-width="0.9" />
<line x1="499.81" y1="245.5" x2="499.81" y2="243.7" stroke="#000" stroke-width="0.9" />
<line x1="526" y1="245.5" x2="526" y2="242.5" stroke="#000" stroke-width="0.9" />
<line x1="316.5" y1="295.5" x2="316.5" y2="292.5" stroke="#000" stroke-width="0.9" />
<line x1="342.69" y1="295.5" x2="342.69" y2="293.7" stroke="#000" stroke-width="0.9" />
<line x1="368.88" y1="295.5" x2="368.88" y2="292.5" stroke="#000" stroke-width="0.9" />
<line x1="395.06" y1="295.5" x2="395.06" y2="293.7" stroke="#000" stroke-width="0.9" />
<line x1="421.25" y1="295.5" x2="421.25" y2="292.5" stroke="#000" stroke-width="0.9" />
<line x1="447.44" y1="295.5" x2="447.44" y2="293.7" stroke="#000" stroke-width="0.9" />
<line x1="473.62" y1="295.5" x2="473.62" y2="292.5" stroke="#000" stroke-width="0.9" />
<line x1="499.81" y1="295.5" x2="499.81" y2="293.7" stroke="#000" stroke-width="0.9" />
<line x1="526" y1="295.5" x2="526" y2="292.5" stroke="#000" stroke-width="0.9" />
<line x1="316.5" y1="345.2" x2="316.5" y2="342.2" stroke="#000" stroke-width="0.9" />
<line x1="342.69" y1="345.2" x2="342.69" y2="343.4" stroke="#000" stroke-width="0.9" />
<line x1="368.88" y1="345.2" x2="368.88" y2="342.2" stroke="#000" stroke-width="0.9" />
<line x1="395.06" y1="345.2" x2="395.06" y2="343.4" stroke="#000" stroke-width="0.9" />
<line x1="421.25" y1="345.2" x2="421.25" y2="342.2" stroke="#000" stroke-width="0.9" />
<line x1="447.44" y1="345.2" x2="447.44" y2="343.4" stroke="#000" stroke-width="0.9" />
<line x1="473.62" y1="345.2" x2="473.62" y2="342.2" stroke="#000" stroke-width="0.9" />
<line x1="499.81" y1="345.2" x2="499.81" y2="343.4" stroke="#000" stroke-width="0.9" />
<line x1="526" y1="345.2" x2="526" y2="342.2" stroke="#000" stroke-width="0.9" />
<text x="316.2" y="356.9" font-size="12.5" text-anchor="middle" fill="#000" stroke="#000"  font-family="Liberation Serif">0</text>
<text x="368.57" y="356.9" font-size="12.5" text-anchor="middle" fill="#000" stroke="#000"  font-family="Liberation Serif">200</text>
<text x="420.95" y="356.9" font-size="12.5" text-anchor="middle" fill="#000" stroke="#000"  font-family="Liberation Serif">400</text>
<text x="473.32" y="356.9" font-size="12.5" text-anchor="middle" fill="#000" stroke="#000"  font-family="Liberation Serif">600</text>
<text x="525.7" y="356.9" font-size="12.5" text-anchor="middle" fill="#000" stroke="#000"  font-family="Liberation Serif">800</text>
<text x="424.3" y="369.5" font-size="12.5" text-anchor="middle" fill="#000" stroke="#000"  font-family="Liberation Serif">Time (&#956;s)</text>
<line x1="316.5" y1="197.34" x2="319.5" y2="197.34" stroke="#000" stroke-width="0.9" />
<line x1="316.5" y1="203.88" x2="318.3" y2="203.88" stroke="#000" stroke-width="0.9" />
<line x1="316.5" y1="210.42" x2="319.5" y2="210.42" stroke="#000" stroke-width="0.9" />
<line x1="316.5" y1="216.96" x2="318.3" y2="216.96" stroke="#000" stroke-width="0.9" />
<line x1="316.5" y1="223.5" x2="319.5" y2="223.5" stroke="#000" stroke-width="0.9" />
<line x1="316.5" y1="230.04" x2="318.3" y2="230.04" stroke="#000" stroke-width="0.9" />
<line x1="316.5" y1="236.58" x2="319.5" y2="236.58" stroke="#000" stroke-width="0.9" />
<line x1="316.5" y1="243.12" x2="318.3" y2="243.12" stroke="#000" stroke-width="0.9" />
<text x="314.3" y="200.84" font-size="12.5" text-anchor="end" fill="#000" stroke="#000"  font-family="Liberation Serif">12</text>
<text x="314.3" y="214.62" font-size="12.5" text-anchor="end" fill="#000" stroke="#000"  font-family="Liberation Serif">6</text>
<text x="314.3" y="227.7" font-size="12.5" text-anchor="end" fill="#000" stroke="#000"  font-family="Liberation Serif">0</text>
<text x="314.3" y="240.78" font-size="12.5" text-anchor="end" fill="#000" stroke="#000"  font-family="Liberation Serif">-6</text>
<line x1="317.5" y1="201.7" x2="531" y2="201.7" stroke="#3535c8" stroke-width="1.35" stroke-dasharray="5.05 5.05"/>
<polyline points="316.5,234.28 317,233.86 317.5,233.43 318,232.99 318.5,232.55 319,232.09 319.5,231.63 320,231.16 320.5,230.68 321,230.2 321.5,229.71 322,229.22 322.5,228.72 323,228.21 323.5,227.7 324,227.19 324.5,226.67 325,226.15 325.5,225.63 326,225.1 326.5,224.57 327,224.05 327.5,223.52 328,222.99 328.5,222.46 329,221.93 329.5,221.4 330,220.88 330.5,220.36 331,219.83 331.5,219.32 332,218.8 332.5,218.29 333,217.79 333.5,217.28 334,216.79 334.5,216.3 335,215.81 335.5,215.33 336,214.86 336.5,214.4 337,213.94 337.5,213.5 338,213.06 338.5,212.63 339,212.21 339.5,211.79 340,211.39 340.5,211 341,210.62 341.5,210.25 342,209.9 342.5,209.55 343,209.22 343.5,208.9 344,208.59 344.5,208.29 345,208.01 345.5,207.74 346,207.49 346.5,207.24 347,207.02 347.5,206.8 348,206.6 348.5,206.42 349,206.25 349.5,206.1 350,205.96 350.5,205.83 351,205.73 351.5,205.63 352,205.56 352.5,205.49 353,205.45 353.5,205.42 354,205.4 354.5,205.4 355,205.42 355.5,205.45 356,205.5 356.5,205.56 357,205.64 357.5,205.74 358,205.85 358.5,205.97 359,206.11 359.5,206.27 360,206.44 360.5,206.62 361,206.82 361.5,207.04 362,207.27 362.5,207.51 363,207.77 363.5,208.04 364,208.32 364.5,208.62 365,208.93 365.5,209.25 366,209.59 366.5,209.93 367,210.29 367.5,210.66 368,211.04 368.5,211.43 369,211.84 369.5,212.25 370,212.67 370.5,213.1 371,213.54 371.5,213.99 372,214.45 372.5,214.91 373,215.38 373.5,215.86 374,216.35 374.5,216.84 375,217.33 375.5,217.84 376,218.34 376.5,218.85 377,219.37 377.5,219.89 378,220.41 378.5,220.93 379,221.46 379.5,221.98 380,222.51 380.5,223.04 381,223.57 381.5,224.1 382,224.63 382.5,225.15 383,225.68 383.5,226.2 384,226.72 384.5,227.24 385,227.75 385.5,228.26 386,228.77 386.5,229.27 387,229.76 387.5,230.25 388,230.73 388.5,231.21 389,231.68 389.5,232.14 390,232.59 390.5,233.04 391,233.47 391.5,233.9 392,234.32 392.5,234.73 393,235.12 393.5,235.51 394,235.89 394.5,236.25 395,236.61 395.5,236.95 396,237.28 396.5,237.6 397,237.9 397.5,238.19 398,238.47 398.5,238.74 399,238.99 399.5,239.23 400,239.45 400.5,239.66 401,239.85 401.5,240.03 402,240.2 402.5,240.35 403,240.48 403.5,240.6 404,240.7 404.5,240.79 405,240.86 405.5,240.92 406,240.96 406.5,240.99 407,241 407.5,240.99 408,240.97 408.5,240.94 409,240.88 409.5,240.82 410,240.73 410.5,240.63 411,240.52 411.5,240.39 412,240.24 412.5,240.08 413,239.91 413.5,239.72 414,239.51 414.5,239.29 415,239.06 415.5,238.81 416,238.55 416.5,238.28 417,237.99 417.5,237.69 418,237.38 418.5,237.05 419,236.71 419.5,236.36 420,236 420.5,235.63 421,235.24 421.5,234.85 422,234.44 422.5,234.03 423,233.6 423.5,233.17 424,232.73 424.5,232.28 425,231.82 425.5,231.35 426,230.88 426.5,230.39 427,229.91 427.5,229.41 428,228.92 428.5,228.41 429,227.9 429.5,227.39 430,226.88 430.5,226.36 431,225.84 431.5,225.31 432,224.79 432.5,224.26 433,223.73 433.5,223.2 434,222.67 434.5,222.14 435,221.61 435.5,221.09 436,220.56 436.5,220.04 437,219.52 437.5,219.01 438,218.5 438.5,217.99 439,217.48 439.5,216.99 440,216.49 440.5,216.01 441,215.52 441.5,215.05 442,214.58 442.5,214.12 443,213.67 443.5,213.23 444,212.8 444.5,212.37 445,211.96 445.5,211.55 446,211.16 446.5,210.77 447,210.4 447.5,210.04 448,209.69 448.5,209.35 449,209.02 449.5,208.71 450,208.41 450.5,208.12 451,207.85 451.5,207.59 452,207.34 452.5,207.11 453,206.89 453.5,206.68 454,206.49 454.5,206.32 455,206.16 455.5,206.01 456,205.88 456.5,205.77 457,205.67 457.5,205.58 458,205.52 458.5,205.46 459,205.43 459.5,205.41 460,205.4 460.5,205.41 461,205.44 461.5,205.48 462,205.54 462.5,205.61 463,205.7 463.5,205.8 464,205.92 464.5,206.05 465,206.2 465.5,206.37 466,206.55 466.5,206.74 467,206.95 467.5,207.17 468,207.41 468.5,207.66 469,207.93 469.5,208.21 470,208.5 470.5,208.8 471,209.12 471.5,209.45 472,209.79 472.5,210.15 473,210.51 473.5,210.89 474,211.28 474.5,211.67 475,212.08 475.5,212.5 476,212.93 476.5,213.36 477,213.81 477.5,214.26 478,214.72 478.5,215.19 479,215.67 479.5,216.15 480,216.64 480.5,217.13 481,217.63 481.5,218.14 482,218.65 482.5,219.16 483,219.68 483.5,220.2 484,220.72 484.5,221.25 485,221.77 485.5,222.3 486,222.83 486.5,223.36 487,223.89 487.5,224.42 488,224.94 488.5,225.47 489,225.99 489.5,226.51 490,227.03 490.5,227.55 491,228.06 491.5,228.56 492,229.07 492.5,229.56 493,230.05 493.5,230.54 494,231.02 494.5,231.49 495,231.95 495.5,232.41 496,232.86 496.5,233.3 497,233.73 497.5,234.15 498,234.56 498.5,234.97 499,235.36 499.5,235.74 500,236.11 500.5,236.47 501,236.81 501.5,237.15 502,237.47 502.5,237.78 503,238.08 503.5,238.36 504,238.63 504.5,238.89 505,239.13 505.5,239.36 506,239.58 506.5,239.78 507,239.96 507.5,240.13 508,240.29 508.5,240.43 509,240.55 509.5,240.66 510,240.76 510.5,240.84 511,240.9 511.5,240.95 512,240.98 512.5,241 513,241 513.5,240.98 514,240.95 514.5,240.91 515,240.84 515.5,240.77 516,240.67 516.5,240.57 517,240.44 517.5,240.3 518,240.15 518.5,239.98 519,239.8 519.5,239.6 520,239.38 520.5,239.16 521,238.91 521.5,238.66 522,238.39 522.5,238.11 523,237.81 523.5,237.5 524,237.18 524.5,236.85 525,236.5 525.5,236.15 526,235.78 526.5,235.4 527,235.01 527.5,234.61 528,234.19 528.5,233.77 529,233.34 529.5,232.9 530,232.46 530.5,232 531,231.54" fill="none" stroke="#000" stroke-width="2.1" stroke-linejoin="round" />
<text x="377.2" y="211.6" font-size="12.3" fill="#1b1b96" stroke="#1b1b96" font-family="Liberation Serif"><tspan font-style="italic">V</tspan><tspan font-size="10.5" dy="3">b</tspan><tspan dy="-3">=10.0 kV</tspan></text>
<text x="378.3" y="239.8" font-size="14" fill="#000" stroke="#000" font-family="Liberation Serif"><tspan font-style="italic">V</tspan><tspan font-size="10" font-style="italic" dy="2.6">s</tspan></text>
<text transform="translate(288.12,220.7) rotate(-90)" x="0" y="0" font-size="12.5" text-anchor="middle" dominant-baseline="central" stroke="#000" font-family="Liberation Serif"><tspan font-style="italic">U</tspan> (kV)</text>
<text transform="translate(288.16,270.54) rotate(-90)" x="0" y="0" font-size="12.5" text-anchor="middle" dominant-baseline="central" stroke="#000" font-family="Liberation Serif"><tspan font-style="italic">I</tspan><tspan font-size="10" font-style="italic">c</tspan> (mA)</text>
<text transform="translate(288.64,322.62) rotate(-90)" x="0" y="0" font-size="12.5" text-anchor="middle" dominant-baseline="central" stroke="#000" font-family="Liberation Serif"><tspan font-style="italic">I</tspan><tspan font-size="10" font-style="italic">e</tspan>(a.u.)</text>
<line x1="316.5" y1="287.6" x2="319.5" y2="287.6" stroke="#000" stroke-width="0.9" />
<line x1="316.5" y1="280.4" x2="318.3" y2="280.4" stroke="#000" stroke-width="0.9" />
<line x1="316.5" y1="273.2" x2="319.5" y2="273.2" stroke="#000" stroke-width="0.9" />
<line x1="316.5" y1="266" x2="318.3" y2="266" stroke="#000" stroke-width="0.9" />
<line x1="316.5" y1="258.8" x2="319.5" y2="258.8" stroke="#000" stroke-width="0.9" />
<line x1="316.5" y1="251.6" x2="318.3" y2="251.6" stroke="#000" stroke-width="0.9" />
<text x="314.3" y="293" font-size="12.5" text-anchor="end" fill="#000" stroke="#000"  font-family="Liberation Serif">-0.1</text>
<text x="314.3" y="278.6" font-size="12.5" text-anchor="end" fill="#000" stroke="#000"  font-family="Liberation Serif">0.0</text>
<text x="314.3" y="264.2" font-size="12.5" text-anchor="end" fill="#000" stroke="#000"  font-family="Liberation Serif">0.1</text>
<text x="314.3" y="249.8" font-size="12.5" text-anchor="end" fill="#000" stroke="#000"  font-family="Liberation Serif">0.2</text>
<line x1="316.5" y1="301.4" x2="319.5" y2="301.4" stroke="#000" stroke-width="0.9" />
<line x1="316.5" y1="308.36" x2="318.3" y2="308.36" stroke="#000" stroke-width="0.9" />
<line x1="316.5" y1="315.32" x2="319.5" y2="315.32" stroke="#000" stroke-width="0.9" />
<line x1="316.5" y1="322.28" x2="318.3" y2="322.28" stroke="#000" stroke-width="0.9" />
<line x1="316.5" y1="329.24" x2="319.5" y2="329.24" stroke="#000" stroke-width="0.9" />
<line x1="316.5" y1="336.2" x2="318.3" y2="336.2" stroke="#000" stroke-width="0.9" />
<line x1="316.5" y1="343.16" x2="319.5" y2="343.16" stroke="#000" stroke-width="0.9" />
<text x="314.3" y="306.4" font-size="12.5" text-anchor="end" fill="#000" stroke="#000"  font-family="Liberation Serif">0.0</text>
<text x="314.3" y="320.32" font-size="12.5" text-anchor="end" fill="#000" stroke="#000"  font-family="Liberation Serif">-0.6</text>
<text x="314.3" y="334.24" font-size="12.5" text-anchor="end" fill="#000" stroke="#000"  font-family="Liberation Serif">-1.2</text>
<text x="314.3" y="349.66" font-size="12.5" text-anchor="end" fill="#000" stroke="#000"  font-family="Liberation Serif">-1.8</text>
<polyline points="316.5,255.94 317.06,255.63 317.87,256.33 318.7,256.26 319.3,255.48 319.48,255.11 319.58,254.75 319.62,254.03 319.64,253.11 319.65,252.26 319.7,251.81 319.8,251.15 320.35,250.68 321.3,250.85 321.78,250.49 322.34,251.02 322.96,251.45 323.63,251.38 324.31,252.2 325,252.61 325.53,252.45 326.09,252.7 326.67,253.21 327.26,253.22 327.85,253.38 328.43,254.02 328.98,254.18 329.5,254.19 330.05,254.51 330.56,254.99 331.04,255.5 331.52,256.35 331.99,256.71 332.48,257.28 333,257.72 333.41,258.15 333.82,258 334.23,258.74 334.64,259.48 335.06,259.9 335.51,259.87 335.97,260.46 336.47,261.09 337,261.41 337.39,261.88 337.81,261.94 338.25,262.58 338.7,263.03 339.17,263.1 339.64,263.59 340.12,264.59 340.6,264.87 341.08,265.4 341.55,265.6 342.02,266.13 342.47,266.58 342.9,266.97 343.39,266.83 343.87,267.7 344.35,267.88 344.81,268.62 345.27,268.77 345.72,269.4 346.17,270.1 346.62,270.32 347.08,270.48 347.54,271.09 348,271.45 348.47,272.23 348.94,272.19 349.42,272.61 349.9,273.27 350.38,273.31 350.86,274.04 351.33,274.69 351.81,274.78 352.28,274.99 352.74,275.51 353.2,275.92 353.69,276.05 354.17,276.42 354.65,276.81 355.12,277.3 355.58,277.75 356.05,278.02 356.52,278.34 357,278.57 357.49,279.22 358,279.74 358.53,279.89 359.07,280.18 359.63,280.56 360.2,280.55 360.77,281.2 361.34,281.3 361.9,281.61 362.45,281.87 362.99,281.95 363.5,281.97 364.18,282.03 364.82,282.05 365.44,282.22 366.04,282.04 366.66,282.05 367.3,281.47 368,281.5 368.53,281.67 369.09,281.01 369.67,280.98 370.26,280.65 370.86,280.21 371.46,280.4 372.06,279.62 372.63,279.67 373.18,278.99 373.7,278.7 374.39,278.99 375.04,278.46 375.66,278 376.25,278.04 376.83,277.89 377.41,277.9 378,277.23 378.56,277.08 379.08,277.38 379.58,277.01 380.09,276.36 380.65,276.2 381.27,275.85 382,275.62 382.41,275.31 382.84,275.18 383.3,274.85 383.78,274.3 384.28,274.09 384.79,273.73 385.31,273.36 385.84,272.77 386.38,272.58 386.91,272.13 387.45,271.87 387.97,270.92 388.49,271.05 389,270.05 389.5,270.2 390.01,269.68 390.51,269.22 391.02,269.15 391.53,268.47 392.04,267.95 392.54,267.8 393.05,267.45 393.55,266.86 394.05,266.29 394.55,265.94 395.04,265.55 395.52,265.34 396,264.66 396.5,264.31 396.99,264.02 397.47,263.49 397.94,263.04 398.41,262.96 398.87,262.61 399.34,261.96 399.81,261.53 400.28,260.97 400.76,260.67 401.26,260.18 401.77,260.11 402.3,259.76 402.8,259.08 403.32,259.33 403.84,258.57 404.37,258.6 404.91,258.27 405.46,258.03 406.01,257.19 406.57,257.03 407.13,257.07 407.7,256.16 408.27,255.91 408.85,256.01 409.42,255.72 410,255.79 410.6,255.49 411.24,255.13 411.9,255.28 412.58,254.78 413.27,254.63 413.96,254.61 414.65,254.28 415.32,254.14 415.96,254.2 416.57,253.93 417.14,254.26 417.66,253.98 418.11,253.79 418.5,253.42 419.64,253.56 419.8,253.33 419.95,252.92 420.04,252.17 420.12,251.56 420.25,250.9 420.5,250.09 420.94,249.83 421.48,249.96 422.16,250.44 423,250.39 423.38,250.74 423.76,251.19 424.16,251.02 424.58,251.44 425.04,252.25 425.53,252.52 426.06,252.7 426.65,252.84 427.29,253.82 428,254.13 428.41,254.47 428.85,254.85 429.33,255.06 429.83,255.02 430.35,255.13 430.89,255.52 431.45,255.99 432.02,256.29 432.59,256.39 433.17,256.71 433.75,257.34 434.32,257.64 434.89,257.79 435.44,258.55 435.98,258.62 436.5,258.51 436.99,259.07 437.46,259.62 437.9,259.56 438.54,260.26 439.13,260.2 439.68,260.81 440.2,261.59 440.69,261.8 441.16,262.24 441.62,262.3 442.08,262.89 442.54,263.32 443,263.52 443.49,264.19 444,264.52 444.48,265.24 444.97,265.34 445.45,265.62 445.94,265.82 446.43,266.24 446.92,267.07 447.41,267.02 447.91,267.43 448.41,267.89 448.92,268.56 449.44,269.18 449.97,269.46 450.5,270.01 450.97,269.86 451.46,270.21 451.96,271.13 452.47,271.2 452.98,271.87 453.5,272.02 454.02,272.28 454.54,272.75 455.06,273.02 455.57,273.97 456.08,274.13 456.58,274.34 457.07,274.77 457.54,275.08 458,275.19 458.55,276.19 459.09,276.38 459.61,277.05 460.11,277.08 460.61,277.59 461.09,277.7 461.58,277.92 462.06,278.88 462.54,279.16 463.02,279.1 463.5,279.8 464,280.02 464.59,279.98 465.18,280.5 465.76,281.04 466.34,280.99 466.92,281.55 467.51,281.27 468.1,281.56 468.72,281.92 469.35,281.67 470,281.77 470.57,282.14 471.18,281.79 471.8,281.89 472.45,281.35 473.1,281.12 473.76,281.04 474.41,280.71 475.04,281.04 475.66,280.36 476.24,280.35 476.79,279.87 477.3,280.02 478.06,279.73 478.7,279.57 479.27,279.19 479.81,279.1 480.35,279.47 480.93,279.02 481.6,278.82 482.18,278.71 482.79,278.74 483.42,278.7 484.07,278.55 484.74,278.96 485.41,278.69 486.08,278.46 486.75,278.68 487.4,278.01 487.88,277.91 488.37,278.03 488.85,277.23 489.33,277.12 489.82,277.04 490.3,276.63 490.78,275.78 491.27,275.5 491.75,275.34 492.23,274.67 492.72,274.65 493.2,273.7 493.65,273.82 494.09,273.09 494.54,272.47 494.98,272.19 495.43,271.51 495.88,271.46 496.32,270.69 496.77,270.67 497.22,269.99 497.66,269.37 498.11,268.83 498.55,268.63 499,267.9 499.45,267.91 499.89,266.94 500.34,266.76 500.78,266.32 501.23,265.68 501.68,265.57 502.12,264.85 502.57,264.59 503.02,264.08 503.46,263.46 503.91,263.08 504.35,262.43 504.8,262.07 505.28,262.09 505.77,261.25 506.25,261.01 506.73,260.15 507.22,260 507.7,259.4 508.18,259.06 508.67,258.49 509.15,257.92 509.63,257.72 510.12,257.32 510.6,256.94 511.18,257.03 511.76,256.46 512.34,256.31 512.92,256.47 513.5,256.21 514.08,256.14 514.66,256 515.24,255.37 515.82,255.36 516.4,255.07 517.05,255.4 517.72,255.27 518.39,254.96 519.07,254.91 519.73,255.02 520.39,254.99 521.02,254.64 521.63,255.04 522.2,254.7 522.91,254.97 523.61,254.84 524.29,255.03 524.91,255.81 525.49,255.84 525.99,255.87 526.4,255.28 526.73,254.85 526.9,254.27 526.98,253.49 527.03,252.74 527.11,252.05 527.3,251.28 527.96,250.88 528.77,250.88 529.5,250.58 530.11,251.39 530.64,251.8 531,252.35" fill="none" stroke="#ff0000" stroke-width="2.2" stroke-linejoin="round" />
<rect x="375" y="276.5" width="5" height="16" fill="#ff0000"/>
<rect x="480.8" y="280" width="5" height="12.6" fill="#ff0000"/>
<line x1="482.4" y1="283" x2="482.4" y2="292.3" stroke="#ff6a6a" stroke-width="0.6" />
<line x1="484.2" y1="283" x2="484.2" y2="292.3" stroke="#ff6a6a" stroke-width="0.6" />
<ellipse cx="377.1" cy="284.5" rx="4.9" ry="9.8" fill="none" stroke="#1e9a1e" stroke-width="1.2" stroke-dasharray="2.6 1.4"/>
<rect x="402.8" y="262.2" width="33.9" height="20.3" fill="#fff" stroke="#5e5e5e" stroke-width="1"/>
<text x="404.9" y="286.5" font-size="4.6" text-anchor="middle" fill="#111" stroke="#111"  font-family="Liberation Serif">223</text>
<text x="414.4" y="286.5" font-size="4.6" text-anchor="middle" fill="#111" stroke="#111"  font-family="Liberation Serif">228</text>
<text x="423.4" y="286.5" font-size="4.6" text-anchor="middle" fill="#111" stroke="#111"  font-family="Liberation Serif">235</text>
<text x="433.3" y="286.5" font-size="4.6" text-anchor="middle" fill="#111" stroke="#111"  font-family="Liberation Serif">240</text>
<polyline points="403.2,265.89 403.78,265.94 404.37,266.02 404.95,265.86 405.3,281.5 405.55,276.23 405.8,272.59 406.05,270.05 406.3,268.44 406.55,267.78 406.8,267.04 407.05,266.4 407.3,266.21 407.82,265.65 408.34,265.9 408.86,265.65 409.38,265.91 409.9,265.82 410.42,265.54 410.95,265.76 411.47,265.62 411.99,265.74 412.51,265.75 413.03,265.51 413.55,265.41 413.9,281.88 414.15,275.95 414.4,272.45 414.65,269.96 414.9,268.43 415.15,267.46 415.4,266.73 415.65,266.23 415.9,265.8 416.41,265.54 416.92,265.41 417.43,265.43 417.94,265.57 418.45,265.23 418.96,265.47 419.47,265.16 419.99,265.4 420.5,265.42 421.01,265.18 421.52,265.28 422.03,265.43 422.54,265.27 423.05,265.22 423.4,281.6 423.65,275.67 423.9,272 424.15,269.57 424.4,267.9 424.65,266.92 424.9,266.18 425.15,265.97 425.4,265.67 425.92,264.98 426.44,264.96 426.96,265.05 427.48,265 428,265.17 428.52,264.92 429.05,264.88 429.57,265.09 430.09,264.77 430.61,264.92 431.13,264.81 431.65,264.98 432,281.72 432.25,275.83 432.5,271.72 432.75,269.42 433,267.78 433.25,266.67 433.5,266.11 433.75,265.69 434,265.12 436.2,264.59" fill="none" stroke="#ff0000" stroke-width="0.8" stroke-linejoin="round" />
<text x="384.5" y="292.1" font-size="8.5" text-anchor="start" fill="#000" stroke="#000"  font-family="Liberation Serif">enlarged</text>
<line x1="382.7" y1="288" x2="396.75" y2="280.36" stroke="#000" stroke-width="0.9" />
<polygon points="402.2,277.4 397.66,282.03 395.85,278.69" fill="#000"/>
<polyline points="316.5,314.89 316.63,314.4 316.82,313.79 317.03,313.37 317.27,312.65 317.52,312.39 317.77,311.54 318,310.69 318.27,310.25 318.56,309.77 318.84,309.12 319.12,308.38 319.38,307.7 319.6,307.01 319.76,307.18 319.89,306.32 320,305.09 320.1,304.91 320.19,304.46 320.29,303.54 320.4,302.69 320.3,301.91 321.2,301.35 321.56,301.11 321.94,301.36 322.35,300.92 322.8,301.64 323.29,301.43 323.82,301.43 324.4,301.69 325.03,301.49 325.7,301.2 326.44,301.22 327.23,301.16 328.09,301.09 329.01,301.71 330,301.77 330.44,301.34 330.9,301.26 331.38,301.62 331.87,301.79 332.37,301.86 332.89,301.26 333.42,301.76 333.96,301.8 334.51,301.73 335.08,301.4 335.65,301.3 336.24,301.81 336.83,301.41 337.44,301.46 338.05,301.61 338.67,301.47 339.3,301.84 339.94,301.37 340.58,301.22 341.23,301.64 341.89,301.7 342.55,301.85 343.21,301.76 343.88,301.93 344.55,301.96 345.23,301.6 345.91,301.61 346.59,301.33 347.27,301.45 347.95,301.67 348.63,301.27 349.32,301.75 350,301.33 350.56,301.55 351.14,301.97 351.73,301.26 352.35,301.22 352.98,301.53 353.62,301.33 354.28,301.75 354.95,301.16 355.62,301.83 356.31,301.83 357.01,301.77 357.71,301.47 358.42,301.35 359.13,301.64 359.84,301.52 360.55,301.43 361.27,301.36 361.98,301.43 362.69,301.6 363.4,301.72 364.1,301.77 364.79,301.17 365.48,301.27 366.16,301.38 366.83,301.46 367.48,301.28 368.12,301.15 368.75,301.05 369.36,301.24 369.96,301.34 370.53,301.74 371.09,301.68 371.63,301.64 372.14,301.72 372.63,301.7 373.09,301.42 373.53,301.57 373.94,300.96 374.33,301.45 374.68,301.39 375,301.14" fill="none" stroke="#0000ff" stroke-width="2.0" stroke-linejoin="round" />
<polyline points="380,308.58 380.09,309.52 380.6,310.08 380.85,310.63 381.16,310.68 381.51,311.21 381.9,312.33 382.31,311.92 382.74,312.64 383.17,313.71 383.59,313.97 384,314.04 384.44,315.18 384.87,315.35 385.3,316.06 385.73,316.35 386.18,316.93 386.66,317.41 387.16,317.66 387.7,317.78 388.16,318.18 388.63,319.3 389.12,319.25 389.62,319.09 390.14,320.23 390.68,319.86 391.23,319.98 391.81,320.73 392.39,320.69 393,321.19 393.58,321.46 394.18,321.3 394.81,321.87 395.46,321.53 396.12,322.14 396.79,322.37 397.46,321.95 398.12,322.43 398.77,322.17 399.39,322.66 400,323.2 400.64,322.91 401.25,323.13 401.85,323.2 402.44,322.49 403.03,323.44 403.6,323.11 404.19,322.38 404.78,323.12 405.38,322.57 406,322.24 406.59,323.02 407.21,322.49 407.86,322.62 408.51,321.8 409.17,322.38 409.82,321.45 410.45,321.49 411.05,321.47 411.62,320.89 412.14,321.33 412.6,320.68 413.21,320.4 413.72,320.42 414.14,319.65 414.5,319.65 414.83,318.82 415.15,318.52 415.5,317.57 415.78,317.45 416.04,316.85 416.3,315.5 416.55,315.53 416.79,314.47 417.02,314.32 417.25,313.6 417.48,313.15 417.7,311.78 417.92,311.47 418.12,311.26 418.33,310.87 418.52,310.01 418.72,308.66 418.91,308.69 419.1,307.57 419.3,307.54 419.5,307.33 419.8,305.93 420.1,306.25 420.4,305.46 420.71,304.53 421.04,304.01 421.4,303.84 421.66,303.73 421.75,302.91 421.96,301.9 422.61,301.38 424,301.17 424.37,301.89 424.78,301.17 425.22,301.55 425.68,301.23 426.18,301.64 426.7,301.29 427.24,301.02 427.8,301.81 428.39,301.43 429,301.6 429.62,301.73 430.26,301.88 430.91,300.86 431.58,301.23 432.26,301.02 432.94,301.42 433.64,301.84 434.34,301.77 435.05,300.94 435.76,301.11 436.47,301.82 437.18,301.67 437.89,301.37 438.6,301.47 439.3,301.12 440,301.88 440.55,301.38 441.1,301.92 441.66,301.63 442.23,301.05 442.8,301.33 443.38,301.21 443.96,301.96 444.55,301.64 445.14,301.04 445.73,301.19 446.33,301.41 446.94,301.54 447.54,301.67 448.15,301.47 448.76,301.44 449.38,301.06 450,301.7 450.62,301.44 451.24,301.11 451.86,301.6 452.49,302.19 453.11,301.16 453.74,301.28 454.37,301.86 454.99,301.43 455.62,301.44 456.25,301.69 456.88,301.43 457.5,301.77 458.13,301.73 458.75,302.2 459.38,302.24 460,301.19 460.59,301.76 461.21,301.99 461.83,302.1 462.48,301.99 463.13,301.83 463.8,301.82 464.47,301.52 465.16,301.42 465.84,301.98 466.54,302.05 467.24,302.12 467.94,301.82 468.64,301.4 469.34,301.89 470.03,301.85 470.72,301.59 471.41,301.72 472.09,301.39 472.76,301.6 473.42,301.43 474.06,301.04 474.7,301.33 475.32,301.31 475.92,302.03 476.5,301.46 477.07,301.32 477.61,301.18 478.13,301.16 478.62,301.27 479.09,301.03 479.54,300.88 479.95,301.82 480.33,301.36 480.68,301.34 481,301.48" fill="none" stroke="#0000ff" stroke-width="2.2" stroke-linejoin="round" />
<polyline points="486,304.82 486.19,305.03 486.42,305.37 486.7,306.09 487.01,306.66 487.36,307.65 487.72,308.14 488.11,309.13 488.5,309.24 488.9,310.38 489.2,310.54 489.52,310.56 489.84,311.14 490.17,312 490.52,312.87 490.87,312.82 491.23,313.7 491.6,313.88 491.99,314.77 492.38,314.52 492.78,315.35 493.2,316.16 493.63,316.02 494.08,316.42 494.54,316.62 495.02,317.16 495.51,317.65 496.01,318.42 496.51,318.35 497.01,318.86 497.51,319.01 498.02,319.67 498.51,320.18 499,320.23 499.64,320.1 500.29,320.8 500.93,321.18 501.58,320.99 502.22,320.62 502.87,321.36 503.51,321.49 504.16,321.08 504.8,320.97 505.44,321.1 506.09,321.49 506.73,321.86 507.38,321.7 508.02,322 508.67,321.39 509.31,321.5 509.96,321.86 510.6,321.73 511.25,321.46 511.92,321.63 512.59,321.24 513.25,320.88 513.92,321.08 514.57,320.59 515.21,320.94 515.82,320.48 516.4,320.39 516.95,320.23 517.47,319.65 517.97,319.54 518.45,318.82 518.92,319.29 519.39,318.59 519.85,318.56 520.32,317.28 520.8,317.3 521.17,317.01 521.55,316.25 521.94,315.6 522.32,315.2 522.71,314.72 523.09,314.79 523.47,313.68 523.84,313.82 524.21,312.94 524.55,312.51 524.89,312.02 525.2,311.45 525.5,310.97 525.79,310.31 526.07,309.43 526.33,309.14 526.59,308.03 526.84,307.77 527.07,307.15 527.3,306.53 527.52,305.51 527.72,305.37 527.92,305.06 528.1,304.16 528.55,303.05 528.89,302.67 529.18,302.67 529.5,301.67 530.34,301.42 531,301.98" fill="none" stroke="#0000ff" stroke-width="1.9" stroke-linejoin="round" />
<rect x="374.9" y="300.6" width="5.2" height="37.9" fill="#0000ff"/>
<rect x="481.3" y="300.6" width="4.6" height="38.1" fill="#0000ff"/>
<line x1="482.8" y1="306" x2="482.8" y2="338.4" stroke="#6a6aff" stroke-width="0.6" />
<line x1="484.4" y1="306" x2="484.4" y2="338.4" stroke="#6a6aff" stroke-width="0.6" />
<ellipse cx="377.2" cy="320.3" rx="5" ry="21.7" fill="none" stroke="#1e9a1e" stroke-width="1.2" stroke-dasharray="2.6 1.4"/>
<rect x="325.4" y="306.4" width="37.7" height="24.6" fill="#fff" stroke="#5e5e5e" stroke-width="1"/>
<text x="326.4" y="335.9" font-size="4.6" text-anchor="middle" fill="#111" stroke="#111"  font-family="Liberation Serif">323</text>
<text x="337.5" y="335.9" font-size="4.6" text-anchor="middle" fill="#111" stroke="#111"  font-family="Liberation Serif">328</text>
<text x="348.1" y="335.9" font-size="4.6" text-anchor="middle" fill="#111" stroke="#111"  font-family="Liberation Serif">335</text>
<text x="359.3" y="335.9" font-size="4.6" text-anchor="middle" fill="#111" stroke="#111"  font-family="Liberation Serif">340</text>
<polyline points="325.9,308.3 326.5,307.8 327.1,308.3 327.9,329.6 328.35,323.69 328.8,319.42 329.25,316.33 329.7,314.1 330.15,312.49 330.6,311.33 331.05,310.49 331.5,309.88 332.02,308.15 332.54,308.01 333.06,307.9 333.58,307.82 334.1,307.8 334.62,307.82 335.14,307.9 335.66,308.01 336.18,308.15 336.7,308.3 337.5,329.6 337.95,323.69 338.4,319.42 338.85,316.33 339.3,314.1 339.75,312.49 340.2,311.33 340.65,310.49 341.1,309.88 341.62,308.17 342.13,308.05 342.65,307.95 343.17,307.87 343.68,307.82 344.2,307.8 344.72,307.82 345.23,307.87 345.75,307.95 346.27,308.05 346.78,308.17 347.3,308.3 348.1,329.6 348.55,323.69 349,319.42 349.45,316.33 349.9,314.1 350.35,312.49 350.8,311.33 351.25,310.49 351.7,309.88 352.23,308.16 352.75,308.03 353.28,307.92 353.81,307.85 354.34,307.81 354.86,307.81 355.39,307.85 355.92,307.92 356.45,308.03 356.97,308.16 357.5,308.3 358.3,329.6 358.75,323.69 359.2,319.42 359.65,316.33 360.1,314.1 360.55,312.49 361,311.33 361.45,310.49 361.9,309.88 363.1,308.3" fill="none" stroke="#0000ff" stroke-width="1.0" stroke-linejoin="round" />
<ellipse cx="337.5" cy="329.0" rx="2.2" ry="1.4" fill="#ff1a1a"/>
<ellipse cx="348.1" cy="329.0" rx="2.2" ry="1.4" fill="#ff1a1a"/>
<text x="330.8" y="326.6" font-size="12" font-family="Liberation Serif" fill="#000" stroke="#000" style="stroke-width:0.35px"><tspan font-style="italic">t</tspan><tspan font-size="7.4" dy="2.4">1</tspan></text>
<text x="340.1" y="326.6" font-size="12" font-family="Liberation Serif" fill="#000" stroke="#000" style="stroke-width:0.35px"><tspan font-style="italic">t</tspan><tspan font-size="7.4" dy="2.4">2</tspan></text>
<text x="340.9" y="341.2" font-size="8.5" text-anchor="start" fill="#000" stroke="#000"  font-family="Liberation Serif">enlarged</text>
<line x1="372.8" y1="338.5" x2="368.97" y2="334.99" stroke="#000" stroke-width="0.9" />
<polygon points="364.4,330.8 370.25,333.59 367.69,336.39" fill="#000"/>
<ellipse cx="380.6" cy="310.1" rx="2.2" ry="1.7" fill="#ff1a1a"/>
<ellipse cx="387.7" cy="318.2" rx="2.2" ry="1.7" fill="#ff1a1a"/>
<ellipse cx="400" cy="322.8" rx="2.2" ry="1.7" fill="#ff1a1a"/>
<ellipse cx="412.6" cy="321" rx="2.2" ry="1.7" fill="#ff1a1a"/>
<ellipse cx="417.7" cy="312.2" rx="2.2" ry="1.7" fill="#ff1a1a"/>
<ellipse cx="421.4" cy="303.9" rx="2.2" ry="1.7" fill="#ff1a1a"/>
<text x="381.2" y="309.4" font-size="12" font-family="Liberation Serif" fill="#000" stroke="#000" style="stroke-width:0.35px"><tspan font-style="italic">t</tspan><tspan font-size="7.4" dy="2.4">3</tspan></text>
<text x="386.7" y="316.9" font-size="12" font-family="Liberation Serif" fill="#000" stroke="#000" style="stroke-width:0.35px"><tspan font-style="italic">t</tspan><tspan font-size="7.4" dy="2.4">4</tspan></text>
<text x="398.6" y="332" font-size="12" font-family="Liberation Serif" fill="#000" stroke="#000" style="stroke-width:0.35px"><tspan font-style="italic">t</tspan><tspan font-size="7.4" dy="2.4">5</tspan></text>
<text x="414" y="330.5" font-size="12" font-family="Liberation Serif" fill="#000" stroke="#000" style="stroke-width:0.35px"><tspan font-style="italic">t</tspan><tspan font-size="7.4" dy="2.4">6</tspan></text>
<text x="420.3" y="319.3" font-size="12" font-family="Liberation Serif" fill="#000" stroke="#000" style="stroke-width:0.35px"><tspan font-style="italic">t</tspan><tspan font-size="7.4" dy="2.4">7</tspan></text>
<text x="412.8" y="306" font-size="12" font-family="Liberation Serif" fill="#000" stroke="#000" style="stroke-width:0.35px"><tspan font-style="italic">t</tspan><tspan font-size="7.4" dy="2.4">8</tspan></text>
<text x="510" y="339.2" font-size="17.3" text-anchor="start" fill="#000" stroke="#000"  font-family="Liberation Serif">(d)</text>
</svg></body></html>
